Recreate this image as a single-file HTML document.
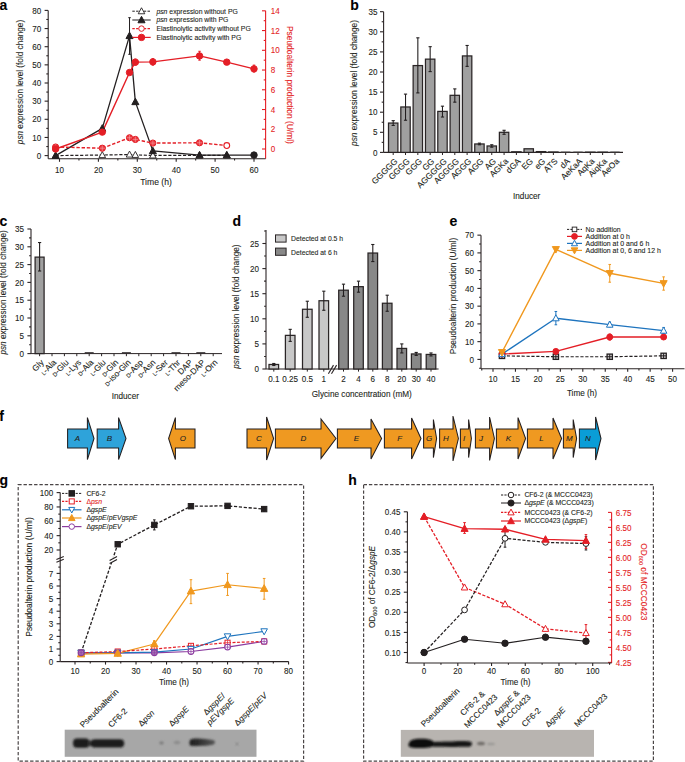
<!DOCTYPE html>
<html><head><meta charset="utf-8"><style>
html,body{margin:0;padding:0;background:#fff;}
svg{display:block;font-family:"Liberation Sans", sans-serif;}
</style></head><body>
<svg width="685" height="762" viewBox="0 0 685 762">
<defs><linearGradient id="bg1" x1="0" x2="1" y1="0" y2="0"><stop offset="0" stop-color="#1e1e1e"/><stop offset="0.45" stop-color="#333"/><stop offset="1" stop-color="#5a5a5a"/></linearGradient><filter id="bl" x="-20%" y="-50%" width="140%" height="200%"><feGaussianBlur stdDeviation="0.9"/></filter></defs>
<rect width="685" height="762" fill="#fff"/>
<text x="-0.6" y="10.2" font-size="14" text-anchor="start" fill="#000" font-weight="bold" stroke="#000" stroke-width="0.1">a</text>
<line x1="48.2" y1="10.4" x2="48.2" y2="158.8" stroke="#2b2425" stroke-width="1.1" stroke-linecap="butt"/>
<line x1="48.2" y1="155.6" x2="44.6" y2="155.6" stroke="#2b2425" stroke-width="1.1" stroke-linecap="butt"/>
<line x1="48.2" y1="137.45" x2="44.6" y2="137.45" stroke="#2b2425" stroke-width="1.1" stroke-linecap="butt"/>
<line x1="48.2" y1="119.3" x2="44.6" y2="119.3" stroke="#2b2425" stroke-width="1.1" stroke-linecap="butt"/>
<line x1="48.2" y1="101.15" x2="44.6" y2="101.15" stroke="#2b2425" stroke-width="1.1" stroke-linecap="butt"/>
<line x1="48.2" y1="83" x2="44.6" y2="83" stroke="#2b2425" stroke-width="1.1" stroke-linecap="butt"/>
<line x1="48.2" y1="64.85" x2="44.6" y2="64.85" stroke="#2b2425" stroke-width="1.1" stroke-linecap="butt"/>
<line x1="48.2" y1="46.7" x2="44.6" y2="46.7" stroke="#2b2425" stroke-width="1.1" stroke-linecap="butt"/>
<line x1="48.2" y1="28.55" x2="44.6" y2="28.55" stroke="#2b2425" stroke-width="1.1" stroke-linecap="butt"/>
<line x1="48.2" y1="10.4" x2="44.6" y2="10.4" stroke="#2b2425" stroke-width="1.1" stroke-linecap="butt"/>
<line x1="48.2" y1="146.53" x2="46.3" y2="146.53" stroke="#2b2425" stroke-width="1.1" stroke-linecap="butt"/>
<line x1="48.2" y1="128.38" x2="46.3" y2="128.38" stroke="#2b2425" stroke-width="1.1" stroke-linecap="butt"/>
<line x1="48.2" y1="110.22" x2="46.3" y2="110.22" stroke="#2b2425" stroke-width="1.1" stroke-linecap="butt"/>
<line x1="48.2" y1="92.07" x2="46.3" y2="92.07" stroke="#2b2425" stroke-width="1.1" stroke-linecap="butt"/>
<line x1="48.2" y1="73.92" x2="46.3" y2="73.92" stroke="#2b2425" stroke-width="1.1" stroke-linecap="butt"/>
<line x1="48.2" y1="55.77" x2="46.3" y2="55.77" stroke="#2b2425" stroke-width="1.1" stroke-linecap="butt"/>
<line x1="48.2" y1="37.62" x2="46.3" y2="37.62" stroke="#2b2425" stroke-width="1.1" stroke-linecap="butt"/>
<line x1="48.2" y1="19.47" x2="46.3" y2="19.47" stroke="#2b2425" stroke-width="1.1" stroke-linecap="butt"/>
<text x="0" y="0" font-size="9" text-anchor="end" fill="#231f20" transform="translate(41.2 158.75) scale(0.9 1)" stroke="#231f20" stroke-width="0.1">0</text>
<text x="0" y="0" font-size="9" text-anchor="end" fill="#231f20" transform="translate(41.2 140.6) scale(0.9 1)" stroke="#231f20" stroke-width="0.1">10</text>
<text x="0" y="0" font-size="9" text-anchor="end" fill="#231f20" transform="translate(41.2 122.45) scale(0.9 1)" stroke="#231f20" stroke-width="0.1">20</text>
<text x="0" y="0" font-size="9" text-anchor="end" fill="#231f20" transform="translate(41.2 104.3) scale(0.9 1)" stroke="#231f20" stroke-width="0.1">30</text>
<text x="0" y="0" font-size="9" text-anchor="end" fill="#231f20" transform="translate(41.2 86.15) scale(0.9 1)" stroke="#231f20" stroke-width="0.1">40</text>
<text x="0" y="0" font-size="9" text-anchor="end" fill="#231f20" transform="translate(41.2 68) scale(0.9 1)" stroke="#231f20" stroke-width="0.1">50</text>
<text x="0" y="0" font-size="9" text-anchor="end" fill="#231f20" transform="translate(41.2 49.85) scale(0.9 1)" stroke="#231f20" stroke-width="0.1">60</text>
<text x="0" y="0" font-size="9" text-anchor="end" fill="#231f20" transform="translate(41.2 31.7) scale(0.9 1)" stroke="#231f20" stroke-width="0.1">70</text>
<text x="0" y="0" font-size="9" text-anchor="end" fill="#231f20" transform="translate(41.2 13.55) scale(0.9 1)" stroke="#231f20" stroke-width="0.1">80</text>
<line x1="265.6" y1="10.82" x2="265.6" y2="158.8" stroke="#e41e26" stroke-width="1.1" stroke-linecap="butt"/>
<line x1="265.6" y1="149" x2="262" y2="149" stroke="#e41e26" stroke-width="1.1" stroke-linecap="butt"/>
<line x1="265.6" y1="129.26" x2="262" y2="129.26" stroke="#e41e26" stroke-width="1.1" stroke-linecap="butt"/>
<line x1="265.6" y1="109.52" x2="262" y2="109.52" stroke="#e41e26" stroke-width="1.1" stroke-linecap="butt"/>
<line x1="265.6" y1="89.78" x2="262" y2="89.78" stroke="#e41e26" stroke-width="1.1" stroke-linecap="butt"/>
<line x1="265.6" y1="70.04" x2="262" y2="70.04" stroke="#e41e26" stroke-width="1.1" stroke-linecap="butt"/>
<line x1="265.6" y1="50.3" x2="262" y2="50.3" stroke="#e41e26" stroke-width="1.1" stroke-linecap="butt"/>
<line x1="265.6" y1="30.56" x2="262" y2="30.56" stroke="#e41e26" stroke-width="1.1" stroke-linecap="butt"/>
<line x1="265.6" y1="10.82" x2="262" y2="10.82" stroke="#e41e26" stroke-width="1.1" stroke-linecap="butt"/>
<line x1="265.6" y1="139.13" x2="263.7" y2="139.13" stroke="#e41e26" stroke-width="1.1" stroke-linecap="butt"/>
<line x1="265.6" y1="119.39" x2="263.7" y2="119.39" stroke="#e41e26" stroke-width="1.1" stroke-linecap="butt"/>
<line x1="265.6" y1="99.65" x2="263.7" y2="99.65" stroke="#e41e26" stroke-width="1.1" stroke-linecap="butt"/>
<line x1="265.6" y1="79.91" x2="263.7" y2="79.91" stroke="#e41e26" stroke-width="1.1" stroke-linecap="butt"/>
<line x1="265.6" y1="60.17" x2="263.7" y2="60.17" stroke="#e41e26" stroke-width="1.1" stroke-linecap="butt"/>
<line x1="265.6" y1="40.43" x2="263.7" y2="40.43" stroke="#e41e26" stroke-width="1.1" stroke-linecap="butt"/>
<line x1="265.6" y1="20.69" x2="263.7" y2="20.69" stroke="#e41e26" stroke-width="1.1" stroke-linecap="butt"/>
<text x="0" y="0" font-size="9" text-anchor="start" fill="#e41e26" transform="translate(270.8 152.15) scale(0.9 1)" stroke="#e41e26" stroke-width="0.1">0</text>
<text x="0" y="0" font-size="9" text-anchor="start" fill="#e41e26" transform="translate(270.8 132.41) scale(0.9 1)" stroke="#e41e26" stroke-width="0.1">2</text>
<text x="0" y="0" font-size="9" text-anchor="start" fill="#e41e26" transform="translate(270.8 112.67) scale(0.9 1)" stroke="#e41e26" stroke-width="0.1">4</text>
<text x="0" y="0" font-size="9" text-anchor="start" fill="#e41e26" transform="translate(270.8 92.93) scale(0.9 1)" stroke="#e41e26" stroke-width="0.1">6</text>
<text x="0" y="0" font-size="9" text-anchor="start" fill="#e41e26" transform="translate(270.8 73.19) scale(0.9 1)" stroke="#e41e26" stroke-width="0.1">8</text>
<text x="0" y="0" font-size="9" text-anchor="start" fill="#e41e26" transform="translate(270.8 53.45) scale(0.9 1)" stroke="#e41e26" stroke-width="0.1">10</text>
<text x="0" y="0" font-size="9" text-anchor="start" fill="#e41e26" transform="translate(270.8 33.71) scale(0.9 1)" stroke="#e41e26" stroke-width="0.1">12</text>
<text x="0" y="0" font-size="9" text-anchor="start" fill="#e41e26" transform="translate(270.8 13.97) scale(0.9 1)" stroke="#e41e26" stroke-width="0.1">14</text>
<line x1="48.2" y1="158.8" x2="265.6" y2="158.8" stroke="#2b2425" stroke-width="1.1" stroke-linecap="butt"/>
<line x1="59.5" y1="158.8" x2="59.5" y2="161.8" stroke="#2b2425" stroke-width="1.1" stroke-linecap="butt"/>
<line x1="98.4" y1="158.8" x2="98.4" y2="161.8" stroke="#2b2425" stroke-width="1.1" stroke-linecap="butt"/>
<line x1="137.3" y1="158.8" x2="137.3" y2="161.8" stroke="#2b2425" stroke-width="1.1" stroke-linecap="butt"/>
<line x1="176.2" y1="158.8" x2="176.2" y2="161.8" stroke="#2b2425" stroke-width="1.1" stroke-linecap="butt"/>
<line x1="215.1" y1="158.8" x2="215.1" y2="161.8" stroke="#2b2425" stroke-width="1.1" stroke-linecap="butt"/>
<line x1="254" y1="158.8" x2="254" y2="161.8" stroke="#2b2425" stroke-width="1.1" stroke-linecap="butt"/>
<line x1="78.95" y1="158.8" x2="78.95" y2="160.6" stroke="#2b2425" stroke-width="1.1" stroke-linecap="butt"/>
<line x1="117.85" y1="158.8" x2="117.85" y2="160.6" stroke="#2b2425" stroke-width="1.1" stroke-linecap="butt"/>
<line x1="156.75" y1="158.8" x2="156.75" y2="160.6" stroke="#2b2425" stroke-width="1.1" stroke-linecap="butt"/>
<line x1="195.65" y1="158.8" x2="195.65" y2="160.6" stroke="#2b2425" stroke-width="1.1" stroke-linecap="butt"/>
<line x1="234.55" y1="158.8" x2="234.55" y2="160.6" stroke="#2b2425" stroke-width="1.1" stroke-linecap="butt"/>
<text x="0" y="0" font-size="9" text-anchor="middle" fill="#231f20" transform="translate(59.5 172.95) scale(0.9 1)" stroke="#231f20" stroke-width="0.1">10</text>
<text x="0" y="0" font-size="9" text-anchor="middle" fill="#231f20" transform="translate(98.4 172.95) scale(0.9 1)" stroke="#231f20" stroke-width="0.1">20</text>
<text x="0" y="0" font-size="9" text-anchor="middle" fill="#231f20" transform="translate(137.3 172.95) scale(0.9 1)" stroke="#231f20" stroke-width="0.1">30</text>
<text x="0" y="0" font-size="9" text-anchor="middle" fill="#231f20" transform="translate(176.2 172.95) scale(0.9 1)" stroke="#231f20" stroke-width="0.1">40</text>
<text x="0" y="0" font-size="9" text-anchor="middle" fill="#231f20" transform="translate(215.1 172.95) scale(0.9 1)" stroke="#231f20" stroke-width="0.1">50</text>
<text x="0" y="0" font-size="9" text-anchor="middle" fill="#231f20" transform="translate(254 172.95) scale(0.9 1)" stroke="#231f20" stroke-width="0.1">60</text>
<text x="156" y="185.2" font-size="8.6" text-anchor="middle" fill="#231f20" stroke="#231f20" stroke-width="0.1">Time (h)</text>
<text transform="translate(22.5 82) rotate(-90)" font-size="8.2" text-anchor="middle" fill="#231f20" stroke="#231f20" stroke-width="0.1"><tspan font-style="italic">psn</tspan> expression level (fold change)</text>
<text transform="translate(287.3 84.9) rotate(90)" font-size="8.4" text-anchor="middle" fill="#e41e26" stroke="#e41e26" stroke-width="0.1">Pseudoalterin production (U/ml)</text>
<polyline points="55.61,155.6 102.29,155.06 129.52,154.51 135.36,154.87 152.86,155.42 199.54,155.42 226.77,155.24" fill="none" stroke="#231f20" stroke-width="1.2" stroke-dasharray="3.2,1.7" stroke-linejoin="round"/>
<polyline points="55.61,155.6 102.29,128.38 129.52,35.81 135.36,101.88 152.86,150.88 199.54,155.06 226.77,155.06 254,155.06" fill="none" stroke="#231f20" stroke-width="1.3" stroke-linejoin="round"/>
<polyline points="55.61,147.03 102.29,148.21 129.52,137.75 135.36,139.43 152.86,143.08 199.54,142.78 226.77,145.55" fill="none" stroke="#e41e26" stroke-width="1.4" stroke-dasharray="3.4,1.8" stroke-linejoin="round"/>
<polyline points="55.61,149 102.29,132.12 129.52,72.51 135.36,62.14 152.86,61.85 199.54,55.93 226.77,62.14 254,68.86" fill="none" stroke="#e41e26" stroke-width="1.4" stroke-linejoin="round"/>
<line x1="129.52" y1="17.66" x2="129.52" y2="54.32" stroke="#231f20" stroke-width="1.0" stroke-linecap="butt"/>
<line x1="128.27" y1="17.66" x2="130.77" y2="17.66" stroke="#231f20" stroke-width="1.0" stroke-linecap="butt"/>
<line x1="128.27" y1="54.32" x2="130.77" y2="54.32" stroke="#231f20" stroke-width="1.0" stroke-linecap="butt"/>
<line x1="199.54" y1="51.29" x2="199.54" y2="60.17" stroke="#e41e26" stroke-width="1.0" stroke-linecap="butt"/>
<line x1="198.29" y1="51.29" x2="200.79" y2="51.29" stroke="#e41e26" stroke-width="1.0" stroke-linecap="butt"/>
<line x1="198.29" y1="60.17" x2="200.79" y2="60.17" stroke="#e41e26" stroke-width="1.0" stroke-linecap="butt"/>
<line x1="254" y1="65.11" x2="254" y2="72.01" stroke="#e41e26" stroke-width="1.0" stroke-linecap="butt"/>
<line x1="252.75" y1="65.11" x2="255.25" y2="65.11" stroke="#e41e26" stroke-width="1.0" stroke-linecap="butt"/>
<line x1="252.75" y1="72.01" x2="255.25" y2="72.01" stroke="#e41e26" stroke-width="1.0" stroke-linecap="butt"/>
<line x1="135.36" y1="59.18" x2="135.36" y2="65.11" stroke="#e41e26" stroke-width="1.0" stroke-linecap="butt"/>
<line x1="134.11" y1="59.18" x2="136.61" y2="59.18" stroke="#e41e26" stroke-width="1.0" stroke-linecap="butt"/>
<line x1="134.11" y1="65.11" x2="136.61" y2="65.11" stroke="#e41e26" stroke-width="1.0" stroke-linecap="butt"/>
<line x1="152.86" y1="58.69" x2="152.86" y2="65.11" stroke="#e41e26" stroke-width="1.0" stroke-linecap="butt"/>
<line x1="151.61" y1="58.69" x2="154.11" y2="58.69" stroke="#e41e26" stroke-width="1.0" stroke-linecap="butt"/>
<line x1="151.61" y1="65.11" x2="154.11" y2="65.11" stroke="#e41e26" stroke-width="1.0" stroke-linecap="butt"/>
<polygon points="55.61,152.16 58.9,158.18 52.32,158.18" fill="white" stroke="#231f20" stroke-width="0.9" stroke-linejoin="miter"/>
<polygon points="102.29,151.62 105.58,157.63 99,157.63" fill="white" stroke="#231f20" stroke-width="0.9" stroke-linejoin="miter"/>
<polygon points="129.52,151.07 132.81,157.09 126.23,157.09" fill="white" stroke="#231f20" stroke-width="0.9" stroke-linejoin="miter"/>
<polygon points="135.36,151.44 138.64,157.45 132.07,157.45" fill="white" stroke="#231f20" stroke-width="0.9" stroke-linejoin="miter"/>
<polygon points="152.86,151.98 156.15,158 149.57,158" fill="white" stroke="#231f20" stroke-width="0.9" stroke-linejoin="miter"/>
<polygon points="199.54,151.98 202.83,158 196.25,158" fill="white" stroke="#231f20" stroke-width="0.9" stroke-linejoin="miter"/>
<polygon points="226.77,151.8 230.06,157.82 223.48,157.82" fill="white" stroke="#231f20" stroke-width="0.9" stroke-linejoin="miter"/>
<polygon points="55.61,151.9 59.15,158.38 52.07,158.38" fill="#231f20" stroke="#231f20" stroke-width="1.0" stroke-linejoin="miter"/>
<polygon points="102.29,124.67 105.83,131.15 98.75,131.15" fill="#231f20" stroke="#231f20" stroke-width="1.0" stroke-linejoin="miter"/>
<polygon points="129.52,32.11 133.06,38.59 125.98,38.59" fill="#231f20" stroke="#231f20" stroke-width="1.0" stroke-linejoin="miter"/>
<polygon points="135.36,98.17 138.9,104.65 131.81,104.65" fill="#231f20" stroke="#231f20" stroke-width="1.0" stroke-linejoin="miter"/>
<polygon points="152.86,147.18 156.4,153.66 149.32,153.66" fill="#231f20" stroke="#231f20" stroke-width="1.0" stroke-linejoin="miter"/>
<polygon points="199.54,151.35 203.08,157.83 196,157.83" fill="#231f20" stroke="#231f20" stroke-width="1.0" stroke-linejoin="miter"/>
<polygon points="226.77,151.35 230.31,157.83 223.23,157.83" fill="#231f20" stroke="#231f20" stroke-width="1.0" stroke-linejoin="miter"/>
<circle cx="254" cy="155.06" r="3.22" fill="#231f20" stroke="#231f20" stroke-width="1.0"/>
<circle cx="55.61" cy="147.03" r="3.1" fill="#ea3a42" stroke="#e41e26" stroke-width="1.0"/>
<line x1="52.91" y1="147.03" x2="58.31" y2="147.03" stroke="#f6b0b3" stroke-width="0.5" stroke-linecap="butt"/>
<line x1="55.61" y1="144.33" x2="55.61" y2="149.73" stroke="#f6b0b3" stroke-width="0.5" stroke-linecap="butt"/>
<circle cx="102.29" cy="148.21" r="3.1" fill="#ea3a42" stroke="#e41e26" stroke-width="1.0"/>
<line x1="99.59" y1="148.21" x2="104.99" y2="148.21" stroke="#f6b0b3" stroke-width="0.5" stroke-linecap="butt"/>
<line x1="102.29" y1="145.51" x2="102.29" y2="150.91" stroke="#f6b0b3" stroke-width="0.5" stroke-linecap="butt"/>
<circle cx="129.52" cy="137.75" r="3.1" fill="#ea3a42" stroke="#e41e26" stroke-width="1.0"/>
<line x1="126.82" y1="137.75" x2="132.22" y2="137.75" stroke="#f6b0b3" stroke-width="0.5" stroke-linecap="butt"/>
<line x1="129.52" y1="135.05" x2="129.52" y2="140.45" stroke="#f6b0b3" stroke-width="0.5" stroke-linecap="butt"/>
<circle cx="135.36" cy="139.43" r="3.1" fill="#ea3a42" stroke="#e41e26" stroke-width="1.0"/>
<line x1="132.66" y1="139.43" x2="138.06" y2="139.43" stroke="#f6b0b3" stroke-width="0.5" stroke-linecap="butt"/>
<line x1="135.36" y1="136.73" x2="135.36" y2="142.13" stroke="#f6b0b3" stroke-width="0.5" stroke-linecap="butt"/>
<circle cx="152.86" cy="143.08" r="3.1" fill="#ea3a42" stroke="#e41e26" stroke-width="1.0"/>
<line x1="150.16" y1="143.08" x2="155.56" y2="143.08" stroke="#f6b0b3" stroke-width="0.5" stroke-linecap="butt"/>
<line x1="152.86" y1="140.38" x2="152.86" y2="145.78" stroke="#f6b0b3" stroke-width="0.5" stroke-linecap="butt"/>
<circle cx="199.54" cy="142.78" r="3.1" fill="#ea3a42" stroke="#e41e26" stroke-width="1.0"/>
<line x1="196.84" y1="142.78" x2="202.24" y2="142.78" stroke="#f6b0b3" stroke-width="0.5" stroke-linecap="butt"/>
<line x1="199.54" y1="140.08" x2="199.54" y2="145.48" stroke="#f6b0b3" stroke-width="0.5" stroke-linecap="butt"/>
<circle cx="226.77" cy="145.55" r="2.88" fill="white" stroke="#e41e26" stroke-width="1.1"/>
<circle cx="55.61" cy="149" r="3.22" fill="#e41e26" stroke="#e41e26" stroke-width="1.0"/>
<circle cx="102.29" cy="132.12" r="3.22" fill="#e41e26" stroke="#e41e26" stroke-width="1.0"/>
<circle cx="129.52" cy="72.51" r="3.22" fill="#e41e26" stroke="#e41e26" stroke-width="1.0"/>
<circle cx="135.36" cy="62.14" r="3.22" fill="#e41e26" stroke="#e41e26" stroke-width="1.0"/>
<circle cx="152.86" cy="61.85" r="3.22" fill="#e41e26" stroke="#e41e26" stroke-width="1.0"/>
<circle cx="199.54" cy="55.93" r="3.22" fill="#e41e26" stroke="#e41e26" stroke-width="1.0"/>
<circle cx="226.77" cy="62.14" r="3.22" fill="#e41e26" stroke="#e41e26" stroke-width="1.0"/>
<circle cx="254" cy="68.86" r="3.22" fill="#e41e26" stroke="#e41e26" stroke-width="1.0"/>
<line x1="132.3" y1="11.2" x2="150.7" y2="11.2" stroke="#231f20" stroke-width="1" stroke-dasharray="2.5,1.3" stroke-linecap="butt"/>
<polygon points="141.5,7.76 144.79,13.78 138.21,13.78" fill="white" stroke="#231f20" stroke-width="0.9" stroke-linejoin="miter"/>
<line x1="132.3" y1="20" x2="150.7" y2="20" stroke="#231f20" stroke-width="1" stroke-linecap="butt"/>
<polygon points="141.5,16.3 145.04,22.78 137.96,22.78" fill="#231f20" stroke="#231f20" stroke-width="1.0" stroke-linejoin="miter"/>
<line x1="132.3" y1="28.6" x2="150.7" y2="28.6" stroke="#e41e26" stroke-width="1.2" stroke-dasharray="2.5,1.3" stroke-linecap="butt"/>
<circle cx="141.5" cy="28.6" r="2.76" fill="white" stroke="#e41e26" stroke-width="1.0"/>
<line x1="132.3" y1="37.4" x2="150.7" y2="37.4" stroke="#e41e26" stroke-width="1.2" stroke-linecap="butt"/>
<circle cx="141.5" cy="37.4" r="3.22" fill="#e41e26" stroke="#e41e26" stroke-width="1.0"/>
<text x="156.4" y="13.6" font-size="6.85" fill="#231f20" stroke="#231f20" stroke-width="0.1"><tspan font-style="italic">psn</tspan> expression without PG</text>
<text x="156.4" y="22.4" font-size="6.85" fill="#231f20" stroke="#231f20" stroke-width="0.1"><tspan font-style="italic">psn</tspan> expression with PG</text>
<text x="156.4" y="31" font-size="6.85" text-anchor="start" fill="#231f20" stroke="#231f20" stroke-width="0.1">Elastinolytic activity without PG</text>
<text x="156.4" y="39.8" font-size="6.85" text-anchor="start" fill="#231f20" stroke="#231f20" stroke-width="0.1">Elastinolytic activity with PG</text>
<text x="350.3" y="10.2" font-size="14" text-anchor="start" fill="#000" font-weight="bold" stroke="#000" stroke-width="0.1">b</text>
<line x1="383.6" y1="11.7" x2="383.6" y2="152.4" stroke="#2b2425" stroke-width="1.1" stroke-linecap="butt"/>
<line x1="383.6" y1="152.4" x2="380" y2="152.4" stroke="#2b2425" stroke-width="1.1" stroke-linecap="butt"/>
<line x1="383.6" y1="132.3" x2="380" y2="132.3" stroke="#2b2425" stroke-width="1.1" stroke-linecap="butt"/>
<line x1="383.6" y1="112.2" x2="380" y2="112.2" stroke="#2b2425" stroke-width="1.1" stroke-linecap="butt"/>
<line x1="383.6" y1="92.1" x2="380" y2="92.1" stroke="#2b2425" stroke-width="1.1" stroke-linecap="butt"/>
<line x1="383.6" y1="72" x2="380" y2="72" stroke="#2b2425" stroke-width="1.1" stroke-linecap="butt"/>
<line x1="383.6" y1="51.9" x2="380" y2="51.9" stroke="#2b2425" stroke-width="1.1" stroke-linecap="butt"/>
<line x1="383.6" y1="31.8" x2="380" y2="31.8" stroke="#2b2425" stroke-width="1.1" stroke-linecap="butt"/>
<line x1="383.6" y1="11.7" x2="380" y2="11.7" stroke="#2b2425" stroke-width="1.1" stroke-linecap="butt"/>
<line x1="383.6" y1="142.35" x2="381.7" y2="142.35" stroke="#2b2425" stroke-width="1.1" stroke-linecap="butt"/>
<line x1="383.6" y1="122.25" x2="381.7" y2="122.25" stroke="#2b2425" stroke-width="1.1" stroke-linecap="butt"/>
<line x1="383.6" y1="102.15" x2="381.7" y2="102.15" stroke="#2b2425" stroke-width="1.1" stroke-linecap="butt"/>
<line x1="383.6" y1="82.05" x2="381.7" y2="82.05" stroke="#2b2425" stroke-width="1.1" stroke-linecap="butt"/>
<line x1="383.6" y1="61.95" x2="381.7" y2="61.95" stroke="#2b2425" stroke-width="1.1" stroke-linecap="butt"/>
<line x1="383.6" y1="41.85" x2="381.7" y2="41.85" stroke="#2b2425" stroke-width="1.1" stroke-linecap="butt"/>
<line x1="383.6" y1="21.75" x2="381.7" y2="21.75" stroke="#2b2425" stroke-width="1.1" stroke-linecap="butt"/>
<text x="0" y="0" font-size="9" text-anchor="end" fill="#231f20" transform="translate(377.6 155.55) scale(0.9 1)" stroke="#231f20" stroke-width="0.1">0</text>
<text x="0" y="0" font-size="9" text-anchor="end" fill="#231f20" transform="translate(377.6 135.45) scale(0.9 1)" stroke="#231f20" stroke-width="0.1">5</text>
<text x="0" y="0" font-size="9" text-anchor="end" fill="#231f20" transform="translate(377.6 115.35) scale(0.9 1)" stroke="#231f20" stroke-width="0.1">10</text>
<text x="0" y="0" font-size="9" text-anchor="end" fill="#231f20" transform="translate(377.6 95.25) scale(0.9 1)" stroke="#231f20" stroke-width="0.1">15</text>
<text x="0" y="0" font-size="9" text-anchor="end" fill="#231f20" transform="translate(377.6 75.15) scale(0.9 1)" stroke="#231f20" stroke-width="0.1">20</text>
<text x="0" y="0" font-size="9" text-anchor="end" fill="#231f20" transform="translate(377.6 55.05) scale(0.9 1)" stroke="#231f20" stroke-width="0.1">25</text>
<text x="0" y="0" font-size="9" text-anchor="end" fill="#231f20" transform="translate(377.6 34.95) scale(0.9 1)" stroke="#231f20" stroke-width="0.1">30</text>
<text x="0" y="0" font-size="9" text-anchor="end" fill="#231f20" transform="translate(377.6 14.85) scale(0.9 1)" stroke="#231f20" stroke-width="0.1">35</text>
<line x1="383.6" y1="152.4" x2="623" y2="152.4" stroke="#2b2425" stroke-width="1.1" stroke-linecap="butt"/>
<line x1="393.2" y1="152.4" x2="393.2" y2="155" stroke="#2b2425" stroke-width="1" stroke-linecap="butt"/>
<rect x="388.5" y="123.05" width="9.4" height="29.35" fill="#a0a0a0" stroke="#2a2526" stroke-width="1.25"/>
<line x1="393.2" y1="120.64" x2="393.2" y2="125.47" stroke="#231f20" stroke-width="1.1" stroke-linecap="butt"/>
<line x1="391.6" y1="120.64" x2="394.8" y2="120.64" stroke="#231f20" stroke-width="1.1" stroke-linecap="butt"/>
<line x1="391.6" y1="125.47" x2="394.8" y2="125.47" stroke="#231f20" stroke-width="1.1" stroke-linecap="butt"/>
<text x="398" y="161.8" font-size="8.4" text-anchor="end" fill="#231f20" transform="rotate(-45 398 161.8)" stroke="#231f20" stroke-width="0.1">GGGGG</text>
<line x1="405.52" y1="152.4" x2="405.52" y2="155" stroke="#2b2425" stroke-width="1" stroke-linecap="butt"/>
<rect x="400.82" y="106.97" width="9.4" height="45.43" fill="#a0a0a0" stroke="#2a2526" stroke-width="1.25"/>
<line x1="405.52" y1="94.11" x2="405.52" y2="120.24" stroke="#231f20" stroke-width="1.1" stroke-linecap="butt"/>
<line x1="403.92" y1="94.11" x2="407.12" y2="94.11" stroke="#231f20" stroke-width="1.1" stroke-linecap="butt"/>
<line x1="403.92" y1="120.24" x2="407.12" y2="120.24" stroke="#231f20" stroke-width="1.1" stroke-linecap="butt"/>
<text x="410.32" y="161.8" font-size="8.4" text-anchor="end" fill="#231f20" transform="rotate(-45 410.32 161.8)" stroke="#231f20" stroke-width="0.1">GGGG</text>
<line x1="417.84" y1="152.4" x2="417.84" y2="155" stroke="#2b2425" stroke-width="1" stroke-linecap="butt"/>
<rect x="413.14" y="65.57" width="9.4" height="86.83" fill="#a0a0a0" stroke="#2a2526" stroke-width="1.25"/>
<line x1="417.84" y1="37.83" x2="417.84" y2="92.9" stroke="#231f20" stroke-width="1.1" stroke-linecap="butt"/>
<line x1="416.24" y1="37.83" x2="419.44" y2="37.83" stroke="#231f20" stroke-width="1.1" stroke-linecap="butt"/>
<line x1="416.24" y1="92.9" x2="419.44" y2="92.9" stroke="#231f20" stroke-width="1.1" stroke-linecap="butt"/>
<text x="422.64" y="161.8" font-size="8.4" text-anchor="end" fill="#231f20" transform="rotate(-45 422.64 161.8)" stroke="#231f20" stroke-width="0.1">GGG</text>
<line x1="430.16" y1="152.4" x2="430.16" y2="155" stroke="#2b2425" stroke-width="1" stroke-linecap="butt"/>
<rect x="425.46" y="59.14" width="9.4" height="93.26" fill="#a0a0a0" stroke="#2a2526" stroke-width="1.25"/>
<line x1="430.16" y1="46.67" x2="430.16" y2="71.6" stroke="#231f20" stroke-width="1.1" stroke-linecap="butt"/>
<line x1="428.56" y1="46.67" x2="431.76" y2="46.67" stroke="#231f20" stroke-width="1.1" stroke-linecap="butt"/>
<line x1="428.56" y1="71.6" x2="431.76" y2="71.6" stroke="#231f20" stroke-width="1.1" stroke-linecap="butt"/>
<text x="434.96" y="161.8" font-size="8.4" text-anchor="end" fill="#231f20" transform="rotate(-45 434.96 161.8)" stroke="#231f20" stroke-width="0.1">GG</text>
<line x1="442.48" y1="152.4" x2="442.48" y2="155" stroke="#2b2425" stroke-width="1" stroke-linecap="butt"/>
<rect x="437.78" y="111.4" width="9.4" height="41" fill="#a0a0a0" stroke="#2a2526" stroke-width="1.25"/>
<line x1="442.48" y1="106.17" x2="442.48" y2="117.02" stroke="#231f20" stroke-width="1.1" stroke-linecap="butt"/>
<line x1="440.88" y1="106.17" x2="444.08" y2="106.17" stroke="#231f20" stroke-width="1.1" stroke-linecap="butt"/>
<line x1="440.88" y1="117.02" x2="444.08" y2="117.02" stroke="#231f20" stroke-width="1.1" stroke-linecap="butt"/>
<text x="447.28" y="161.8" font-size="8.4" text-anchor="end" fill="#231f20" transform="rotate(-45 447.28 161.8)" stroke="#231f20" stroke-width="0.1">AGGGGG</text>
<line x1="454.8" y1="152.4" x2="454.8" y2="155" stroke="#2b2425" stroke-width="1" stroke-linecap="butt"/>
<rect x="450.1" y="95.32" width="9.4" height="57.08" fill="#a0a0a0" stroke="#2a2526" stroke-width="1.25"/>
<line x1="454.8" y1="88.88" x2="454.8" y2="102.15" stroke="#231f20" stroke-width="1.1" stroke-linecap="butt"/>
<line x1="453.2" y1="88.88" x2="456.4" y2="88.88" stroke="#231f20" stroke-width="1.1" stroke-linecap="butt"/>
<line x1="453.2" y1="102.15" x2="456.4" y2="102.15" stroke="#231f20" stroke-width="1.1" stroke-linecap="butt"/>
<text x="459.6" y="161.8" font-size="8.4" text-anchor="end" fill="#231f20" transform="rotate(-45 459.6 161.8)" stroke="#231f20" stroke-width="0.1">AGGGG</text>
<line x1="467.12" y1="152.4" x2="467.12" y2="155" stroke="#2b2425" stroke-width="1" stroke-linecap="butt"/>
<rect x="462.42" y="55.92" width="9.4" height="96.48" fill="#a0a0a0" stroke="#2a2526" stroke-width="1.25"/>
<line x1="467.12" y1="45.47" x2="467.12" y2="66.37" stroke="#231f20" stroke-width="1.1" stroke-linecap="butt"/>
<line x1="465.52" y1="45.47" x2="468.72" y2="45.47" stroke="#231f20" stroke-width="1.1" stroke-linecap="butt"/>
<line x1="465.52" y1="66.37" x2="468.72" y2="66.37" stroke="#231f20" stroke-width="1.1" stroke-linecap="butt"/>
<text x="471.92" y="161.8" font-size="8.4" text-anchor="end" fill="#231f20" transform="rotate(-45 471.92 161.8)" stroke="#231f20" stroke-width="0.1">AGGG</text>
<line x1="479.44" y1="152.4" x2="479.44" y2="155" stroke="#2b2425" stroke-width="1" stroke-linecap="butt"/>
<rect x="474.74" y="143.96" width="9.4" height="8.44" fill="#a0a0a0" stroke="#2a2526" stroke-width="1.25"/>
<line x1="479.44" y1="143.15" x2="479.44" y2="144.76" stroke="#231f20" stroke-width="1.1" stroke-linecap="butt"/>
<line x1="477.84" y1="143.15" x2="481.04" y2="143.15" stroke="#231f20" stroke-width="1.1" stroke-linecap="butt"/>
<line x1="477.84" y1="144.76" x2="481.04" y2="144.76" stroke="#231f20" stroke-width="1.1" stroke-linecap="butt"/>
<text x="484.24" y="161.8" font-size="8.4" text-anchor="end" fill="#231f20" transform="rotate(-45 484.24 161.8)" stroke="#231f20" stroke-width="0.1">AGG</text>
<line x1="491.76" y1="152.4" x2="491.76" y2="155" stroke="#2b2425" stroke-width="1" stroke-linecap="butt"/>
<rect x="487.06" y="145.97" width="9.4" height="6.43" fill="#a0a0a0" stroke="#2a2526" stroke-width="1.25"/>
<line x1="491.76" y1="144.76" x2="491.76" y2="147.17" stroke="#231f20" stroke-width="1.1" stroke-linecap="butt"/>
<line x1="490.16" y1="144.76" x2="493.36" y2="144.76" stroke="#231f20" stroke-width="1.1" stroke-linecap="butt"/>
<line x1="490.16" y1="147.17" x2="493.36" y2="147.17" stroke="#231f20" stroke-width="1.1" stroke-linecap="butt"/>
<text x="496.56" y="161.8" font-size="8.4" text-anchor="end" fill="#231f20" transform="rotate(-45 496.56 161.8)" stroke="#231f20" stroke-width="0.1">AG</text>
<line x1="504.08" y1="152.4" x2="504.08" y2="155" stroke="#2b2425" stroke-width="1" stroke-linecap="butt"/>
<rect x="499.38" y="132.3" width="9.4" height="20.1" fill="#a0a0a0" stroke="#2a2526" stroke-width="1.25"/>
<line x1="504.08" y1="130.29" x2="504.08" y2="134.31" stroke="#231f20" stroke-width="1.1" stroke-linecap="butt"/>
<line x1="502.48" y1="130.29" x2="505.68" y2="130.29" stroke="#231f20" stroke-width="1.1" stroke-linecap="butt"/>
<line x1="502.48" y1="134.31" x2="505.68" y2="134.31" stroke="#231f20" stroke-width="1.1" stroke-linecap="butt"/>
<text x="508.88" y="161.8" font-size="8.4" text-anchor="end" fill="#231f20" transform="rotate(-45 508.88 161.8)" stroke="#231f20" stroke-width="0.1">AGKa</text>
<line x1="516.4" y1="152.4" x2="516.4" y2="155" stroke="#2b2425" stroke-width="1" stroke-linecap="butt"/>
<rect x="511.7" y="151.8" width="9.4" height="0.6" fill="#a0a0a0" stroke="#2a2526" stroke-width="1.25"/>
<text x="521.2" y="161.8" font-size="8.4" text-anchor="end" fill="#231f20" transform="rotate(-45 521.2 161.8)" stroke="#231f20" stroke-width="0.1">dGA</text>
<line x1="528.72" y1="152.4" x2="528.72" y2="155" stroke="#2b2425" stroke-width="1" stroke-linecap="butt"/>
<rect x="524.02" y="148.78" width="9.4" height="3.62" fill="#a0a0a0" stroke="#2a2526" stroke-width="1.25"/>
<text x="533.52" y="161.8" font-size="8.4" text-anchor="end" fill="#231f20" transform="rotate(-45 533.52 161.8)" stroke="#231f20" stroke-width="0.1">EG</text>
<line x1="541.04" y1="152.4" x2="541.04" y2="155" stroke="#2b2425" stroke-width="1" stroke-linecap="butt"/>
<rect x="536.34" y="151.6" width="9.4" height="0.8" fill="#a0a0a0" stroke="#2a2526" stroke-width="1.25"/>
<text x="545.84" y="161.8" font-size="8.4" text-anchor="end" fill="#231f20" transform="rotate(-45 545.84 161.8)" stroke="#231f20" stroke-width="0.1">eG</text>
<line x1="553.36" y1="152.4" x2="553.36" y2="155" stroke="#2b2425" stroke-width="1" stroke-linecap="butt"/>
<rect x="548.66" y="152" width="9.4" height="0.4" fill="#a0a0a0" stroke="#2a2526" stroke-width="1.25"/>
<text x="558.16" y="161.8" font-size="8.4" text-anchor="end" fill="#231f20" transform="rotate(-45 558.16 161.8)" stroke="#231f20" stroke-width="0.1">ATS</text>
<line x1="565.68" y1="152.4" x2="565.68" y2="155" stroke="#2b2425" stroke-width="1" stroke-linecap="butt"/>
<line x1="560.98" y1="151.9" x2="570.38" y2="151.9" stroke="#555" stroke-width="0.8" stroke-linecap="butt"/>
<text x="570.48" y="161.8" font-size="8.4" text-anchor="end" fill="#231f20" transform="rotate(-45 570.48 161.8)" stroke="#231f20" stroke-width="0.1">dA</text>
<line x1="578" y1="152.4" x2="578" y2="155" stroke="#2b2425" stroke-width="1" stroke-linecap="butt"/>
<line x1="573.3" y1="151.9" x2="582.7" y2="151.9" stroke="#555" stroke-width="0.8" stroke-linecap="butt"/>
<text x="582.8" y="161.8" font-size="8.4" text-anchor="end" fill="#231f20" transform="rotate(-45 582.8 161.8)" stroke="#231f20" stroke-width="0.1">AeKaA</text>
<line x1="590.32" y1="152.4" x2="590.32" y2="155" stroke="#2b2425" stroke-width="1" stroke-linecap="butt"/>
<rect x="585.62" y="152.16" width="9.4" height="0.24" fill="#a0a0a0" stroke="#2a2526" stroke-width="1.25"/>
<text x="595.12" y="161.8" font-size="8.4" text-anchor="end" fill="#231f20" transform="rotate(-45 595.12 161.8)" stroke="#231f20" stroke-width="0.1">AqKa</text>
<line x1="602.64" y1="152.4" x2="602.64" y2="155" stroke="#2b2425" stroke-width="1" stroke-linecap="butt"/>
<rect x="597.94" y="152.16" width="9.4" height="0.24" fill="#a0a0a0" stroke="#2a2526" stroke-width="1.25"/>
<text x="607.44" y="161.8" font-size="8.4" text-anchor="end" fill="#231f20" transform="rotate(-45 607.44 161.8)" stroke="#231f20" stroke-width="0.1">AiqKa</text>
<line x1="614.96" y1="152.4" x2="614.96" y2="155" stroke="#2b2425" stroke-width="1" stroke-linecap="butt"/>
<line x1="610.26" y1="151.9" x2="619.66" y2="151.9" stroke="#555" stroke-width="0.8" stroke-linecap="butt"/>
<text x="619.76" y="161.8" font-size="8.4" text-anchor="end" fill="#231f20" transform="rotate(-45 619.76 161.8)" stroke="#231f20" stroke-width="0.1">AeOa</text>
<text transform="translate(356.6 83) rotate(-90)" font-size="8.3" text-anchor="middle" fill="#231f20" stroke="#231f20" stroke-width="0.1"><tspan font-style="italic">psn</tspan> expression level (fold change)</text>
<text x="526.7" y="198.5" font-size="8.2" text-anchor="middle" fill="#231f20" stroke="#231f20" stroke-width="0.1">Inducer</text>
<text x="-0.6" y="226" font-size="14" text-anchor="start" fill="#000" font-weight="bold" stroke="#000" stroke-width="0.1">c</text>
<line x1="31" y1="229" x2="31" y2="353.6" stroke="#2b2425" stroke-width="1.1" stroke-linecap="butt"/>
<line x1="31" y1="353.6" x2="27.4" y2="353.6" stroke="#2b2425" stroke-width="1.1" stroke-linecap="butt"/>
<line x1="31" y1="335.8" x2="27.4" y2="335.8" stroke="#2b2425" stroke-width="1.1" stroke-linecap="butt"/>
<line x1="31" y1="318" x2="27.4" y2="318" stroke="#2b2425" stroke-width="1.1" stroke-linecap="butt"/>
<line x1="31" y1="300.2" x2="27.4" y2="300.2" stroke="#2b2425" stroke-width="1.1" stroke-linecap="butt"/>
<line x1="31" y1="282.4" x2="27.4" y2="282.4" stroke="#2b2425" stroke-width="1.1" stroke-linecap="butt"/>
<line x1="31" y1="264.6" x2="27.4" y2="264.6" stroke="#2b2425" stroke-width="1.1" stroke-linecap="butt"/>
<line x1="31" y1="246.8" x2="27.4" y2="246.8" stroke="#2b2425" stroke-width="1.1" stroke-linecap="butt"/>
<line x1="31" y1="229" x2="27.4" y2="229" stroke="#2b2425" stroke-width="1.1" stroke-linecap="butt"/>
<line x1="31" y1="344.7" x2="29.1" y2="344.7" stroke="#2b2425" stroke-width="1.1" stroke-linecap="butt"/>
<line x1="31" y1="326.9" x2="29.1" y2="326.9" stroke="#2b2425" stroke-width="1.1" stroke-linecap="butt"/>
<line x1="31" y1="309.1" x2="29.1" y2="309.1" stroke="#2b2425" stroke-width="1.1" stroke-linecap="butt"/>
<line x1="31" y1="291.3" x2="29.1" y2="291.3" stroke="#2b2425" stroke-width="1.1" stroke-linecap="butt"/>
<line x1="31" y1="273.5" x2="29.1" y2="273.5" stroke="#2b2425" stroke-width="1.1" stroke-linecap="butt"/>
<line x1="31" y1="255.7" x2="29.1" y2="255.7" stroke="#2b2425" stroke-width="1.1" stroke-linecap="butt"/>
<line x1="31" y1="237.9" x2="29.1" y2="237.9" stroke="#2b2425" stroke-width="1.1" stroke-linecap="butt"/>
<text x="0" y="0" font-size="9" text-anchor="end" fill="#231f20" transform="translate(24 356.75) scale(0.9 1)" stroke="#231f20" stroke-width="0.1">0</text>
<text x="0" y="0" font-size="9" text-anchor="end" fill="#231f20" transform="translate(24 338.95) scale(0.9 1)" stroke="#231f20" stroke-width="0.1">5</text>
<text x="0" y="0" font-size="9" text-anchor="end" fill="#231f20" transform="translate(24 321.15) scale(0.9 1)" stroke="#231f20" stroke-width="0.1">10</text>
<text x="0" y="0" font-size="9" text-anchor="end" fill="#231f20" transform="translate(24 303.35) scale(0.9 1)" stroke="#231f20" stroke-width="0.1">15</text>
<text x="0" y="0" font-size="9" text-anchor="end" fill="#231f20" transform="translate(24 285.55) scale(0.9 1)" stroke="#231f20" stroke-width="0.1">20</text>
<text x="0" y="0" font-size="9" text-anchor="end" fill="#231f20" transform="translate(24 267.75) scale(0.9 1)" stroke="#231f20" stroke-width="0.1">25</text>
<text x="0" y="0" font-size="9" text-anchor="end" fill="#231f20" transform="translate(24 249.95) scale(0.9 1)" stroke="#231f20" stroke-width="0.1">30</text>
<text x="0" y="0" font-size="9" text-anchor="end" fill="#231f20" transform="translate(24 232.15) scale(0.9 1)" stroke="#231f20" stroke-width="0.1">35</text>
<line x1="31" y1="353.6" x2="222" y2="353.6" stroke="#2b2425" stroke-width="1" stroke-linecap="butt"/>
<line x1="39.6" y1="353.6" x2="39.6" y2="356.2" stroke="#2b2425" stroke-width="1" stroke-linecap="butt"/>
<rect x="35.1" y="257.12" width="9" height="96.48" fill="#a0a0a0" stroke="#2a2526" stroke-width="1.25"/>
<text x="44.4" y="363" font-size="8.4" text-anchor="end" fill="#231f20" transform="rotate(-45 44.4 363)" stroke="#231f20" stroke-width="0.1">Gly</text>
<line x1="52" y1="353.6" x2="52" y2="356.2" stroke="#2b2425" stroke-width="1" stroke-linecap="butt"/>
<text x="56.8" y="363" font-size="8.4" text-anchor="end" fill="#231f20" transform="rotate(-45 56.8 363)" stroke="#231f20" stroke-width="0.1"><tspan font-size="5.8">L</tspan>-Ala</text>
<line x1="64.4" y1="353.6" x2="64.4" y2="356.2" stroke="#2b2425" stroke-width="1" stroke-linecap="butt"/>
<text x="69.2" y="363" font-size="8.4" text-anchor="end" fill="#231f20" transform="rotate(-45 69.2 363)" stroke="#231f20" stroke-width="0.1"><tspan font-size="5.8">D</tspan>-Glu</text>
<line x1="76.8" y1="353.6" x2="76.8" y2="356.2" stroke="#2b2425" stroke-width="1" stroke-linecap="butt"/>
<text x="81.6" y="363" font-size="8.4" text-anchor="end" fill="#231f20" transform="rotate(-45 81.6 363)" stroke="#231f20" stroke-width="0.1"><tspan font-size="5.8">L</tspan>-Lys</text>
<line x1="89.2" y1="353.6" x2="89.2" y2="356.2" stroke="#2b2425" stroke-width="1" stroke-linecap="butt"/>
<line x1="84.7" y1="352.8" x2="93.7" y2="352.8" stroke="#2a2526" stroke-width="1.2" stroke-linecap="butt"/>
<text x="94" y="363" font-size="8.4" text-anchor="end" fill="#231f20" transform="rotate(-45 94 363)" stroke="#231f20" stroke-width="0.1"><tspan font-size="5.8">D</tspan>-Ala</text>
<line x1="101.6" y1="353.6" x2="101.6" y2="356.2" stroke="#2b2425" stroke-width="1" stroke-linecap="butt"/>
<text x="106.4" y="363" font-size="8.4" text-anchor="end" fill="#231f20" transform="rotate(-45 106.4 363)" stroke="#231f20" stroke-width="0.1"><tspan font-size="5.8">L</tspan>-Glu</text>
<line x1="114" y1="353.6" x2="114" y2="356.2" stroke="#2b2425" stroke-width="1" stroke-linecap="butt"/>
<text x="118.8" y="363" font-size="8.4" text-anchor="end" fill="#231f20" transform="rotate(-45 118.8 363)" stroke="#231f20" stroke-width="0.1"><tspan font-size="5.8">D</tspan>-Gln</text>
<line x1="126.4" y1="353.6" x2="126.4" y2="356.2" stroke="#2b2425" stroke-width="1" stroke-linecap="butt"/>
<line x1="121.9" y1="352.8" x2="130.9" y2="352.8" stroke="#2a2526" stroke-width="1.2" stroke-linecap="butt"/>
<text x="131.2" y="363" font-size="8.4" text-anchor="end" fill="#231f20" transform="rotate(-45 131.2 363)" stroke="#231f20" stroke-width="0.1"><tspan font-size="5.8">D</tspan>-iso-Gln</text>
<line x1="138.8" y1="353.6" x2="138.8" y2="356.2" stroke="#2b2425" stroke-width="1" stroke-linecap="butt"/>
<text x="143.6" y="363" font-size="8.4" text-anchor="end" fill="#231f20" transform="rotate(-45 143.6 363)" stroke="#231f20" stroke-width="0.1"><tspan font-size="5.8">D</tspan>-Asp</text>
<line x1="151.2" y1="353.6" x2="151.2" y2="356.2" stroke="#2b2425" stroke-width="1" stroke-linecap="butt"/>
<text x="156" y="363" font-size="8.4" text-anchor="end" fill="#231f20" transform="rotate(-45 156 363)" stroke="#231f20" stroke-width="0.1"><tspan font-size="5.8">D</tspan>-Asn</text>
<line x1="163.6" y1="353.6" x2="163.6" y2="356.2" stroke="#2b2425" stroke-width="1" stroke-linecap="butt"/>
<text x="168.4" y="363" font-size="8.4" text-anchor="end" fill="#231f20" transform="rotate(-45 168.4 363)" stroke="#231f20" stroke-width="0.1"><tspan font-size="5.8">L</tspan>-Ser</text>
<line x1="176" y1="353.6" x2="176" y2="356.2" stroke="#2b2425" stroke-width="1" stroke-linecap="butt"/>
<line x1="171.5" y1="352.8" x2="180.5" y2="352.8" stroke="#2a2526" stroke-width="1.2" stroke-linecap="butt"/>
<text x="180.8" y="363" font-size="8.4" text-anchor="end" fill="#231f20" transform="rotate(-45 180.8 363)" stroke="#231f20" stroke-width="0.1"><tspan font-size="5.8">L</tspan>-Thr</text>
<line x1="188.4" y1="353.6" x2="188.4" y2="356.2" stroke="#2b2425" stroke-width="1" stroke-linecap="butt"/>
<text x="193.2" y="363" font-size="8.4" text-anchor="end" fill="#231f20" transform="rotate(-45 193.2 363)" stroke="#231f20" stroke-width="0.1">DAP</text>
<line x1="200.8" y1="353.6" x2="200.8" y2="356.2" stroke="#2b2425" stroke-width="1" stroke-linecap="butt"/>
<line x1="196.3" y1="352.8" x2="205.3" y2="352.8" stroke="#2a2526" stroke-width="1.2" stroke-linecap="butt"/>
<text x="205.6" y="363" font-size="8.4" text-anchor="end" fill="#231f20" transform="rotate(-45 205.6 363)" stroke="#231f20" stroke-width="0.1">meso-DAP</text>
<line x1="213.2" y1="353.6" x2="213.2" y2="356.2" stroke="#2b2425" stroke-width="1" stroke-linecap="butt"/>
<text x="218" y="363" font-size="8.4" text-anchor="end" fill="#231f20" transform="rotate(-45 218 363)" stroke="#231f20" stroke-width="0.1"><tspan font-size="5.8">L</tspan>-Orn</text>
<line x1="39.6" y1="242.53" x2="39.6" y2="271.01" stroke="#231f20" stroke-width="1.1" stroke-linecap="butt"/>
<line x1="38" y1="242.53" x2="41.2" y2="242.53" stroke="#231f20" stroke-width="1.1" stroke-linecap="butt"/>
<line x1="38" y1="271.01" x2="41.2" y2="271.01" stroke="#231f20" stroke-width="1.1" stroke-linecap="butt"/>
<text transform="translate(6.3 292.4) rotate(-90)" font-size="8.2" text-anchor="middle" fill="#231f20" stroke="#231f20" stroke-width="0.1"><tspan font-style="italic">psn</tspan> expression level (fold change)</text>
<text x="125.3" y="399" font-size="8.2" text-anchor="middle" fill="#231f20" stroke="#231f20" stroke-width="0.1">Inducer</text>
<text x="232.6" y="225.7" font-size="14" text-anchor="start" fill="#000" font-weight="bold" stroke="#000" stroke-width="0.1">d</text>
<line x1="266" y1="230" x2="266" y2="369" stroke="#2b2425" stroke-width="1.1" stroke-linecap="butt"/>
<line x1="266" y1="369" x2="262.4" y2="369" stroke="#2b2425" stroke-width="1.1" stroke-linecap="butt"/>
<line x1="266" y1="343.9" x2="262.4" y2="343.9" stroke="#2b2425" stroke-width="1.1" stroke-linecap="butt"/>
<line x1="266" y1="318.8" x2="262.4" y2="318.8" stroke="#2b2425" stroke-width="1.1" stroke-linecap="butt"/>
<line x1="266" y1="293.7" x2="262.4" y2="293.7" stroke="#2b2425" stroke-width="1.1" stroke-linecap="butt"/>
<line x1="266" y1="268.6" x2="262.4" y2="268.6" stroke="#2b2425" stroke-width="1.1" stroke-linecap="butt"/>
<line x1="266" y1="243.5" x2="262.4" y2="243.5" stroke="#2b2425" stroke-width="1.1" stroke-linecap="butt"/>
<line x1="266" y1="356.45" x2="264.1" y2="356.45" stroke="#2b2425" stroke-width="1.1" stroke-linecap="butt"/>
<line x1="266" y1="331.35" x2="264.1" y2="331.35" stroke="#2b2425" stroke-width="1.1" stroke-linecap="butt"/>
<line x1="266" y1="306.25" x2="264.1" y2="306.25" stroke="#2b2425" stroke-width="1.1" stroke-linecap="butt"/>
<line x1="266" y1="281.15" x2="264.1" y2="281.15" stroke="#2b2425" stroke-width="1.1" stroke-linecap="butt"/>
<line x1="266" y1="256.05" x2="264.1" y2="256.05" stroke="#2b2425" stroke-width="1.1" stroke-linecap="butt"/>
<line x1="266" y1="230.95" x2="264.1" y2="230.95" stroke="#2b2425" stroke-width="1.1" stroke-linecap="butt"/>
<text x="0" y="0" font-size="9" text-anchor="end" fill="#231f20" transform="translate(259 372.15) scale(0.9 1)" stroke="#231f20" stroke-width="0.1">0</text>
<text x="0" y="0" font-size="9" text-anchor="end" fill="#231f20" transform="translate(259 347.05) scale(0.9 1)" stroke="#231f20" stroke-width="0.1">5</text>
<text x="0" y="0" font-size="9" text-anchor="end" fill="#231f20" transform="translate(259 321.95) scale(0.9 1)" stroke="#231f20" stroke-width="0.1">10</text>
<text x="0" y="0" font-size="9" text-anchor="end" fill="#231f20" transform="translate(259 296.85) scale(0.9 1)" stroke="#231f20" stroke-width="0.1">15</text>
<text x="0" y="0" font-size="9" text-anchor="end" fill="#231f20" transform="translate(259 271.75) scale(0.9 1)" stroke="#231f20" stroke-width="0.1">20</text>
<text x="0" y="0" font-size="9" text-anchor="end" fill="#231f20" transform="translate(259 246.65) scale(0.9 1)" stroke="#231f20" stroke-width="0.1">25</text>
<line x1="266" y1="369" x2="438.6" y2="369" stroke="#2b2425" stroke-width="1.1" stroke-linecap="butt"/>
<line x1="328.4" y1="373.7" x2="333.5" y2="365.1" stroke="#2b2425" stroke-width="1.1" stroke-linecap="butt"/>
<line x1="331.5" y1="373.7" x2="336.6" y2="365.1" stroke="#2b2425" stroke-width="1.1" stroke-linecap="butt"/>
<line x1="273.8" y1="369" x2="273.8" y2="371.6" stroke="#2b2425" stroke-width="1" stroke-linecap="butt"/>
<rect x="269" y="364.48" width="9.6" height="4.52" fill="#c8c8c8" stroke="#2a2526" stroke-width="1.25"/>
<line x1="273.8" y1="363.48" x2="273.8" y2="365.49" stroke="#231f20" stroke-width="1.1" stroke-linecap="butt"/>
<line x1="272.2" y1="363.48" x2="275.4" y2="363.48" stroke="#231f20" stroke-width="1.1" stroke-linecap="butt"/>
<line x1="272.2" y1="365.49" x2="275.4" y2="365.49" stroke="#231f20" stroke-width="1.1" stroke-linecap="butt"/>
<text x="0" y="0" font-size="9" text-anchor="middle" fill="#231f20" transform="translate(273.8 382.2) scale(0.9 1)" stroke="#231f20" stroke-width="0.1">0.1</text>
<line x1="290.2" y1="369" x2="290.2" y2="371.6" stroke="#2b2425" stroke-width="1" stroke-linecap="butt"/>
<rect x="285.4" y="335.37" width="9.6" height="33.63" fill="#c8c8c8" stroke="#2a2526" stroke-width="1.25"/>
<line x1="290.2" y1="329.34" x2="290.2" y2="341.39" stroke="#231f20" stroke-width="1.1" stroke-linecap="butt"/>
<line x1="288.6" y1="329.34" x2="291.8" y2="329.34" stroke="#231f20" stroke-width="1.1" stroke-linecap="butt"/>
<line x1="288.6" y1="341.39" x2="291.8" y2="341.39" stroke="#231f20" stroke-width="1.1" stroke-linecap="butt"/>
<text x="0" y="0" font-size="9" text-anchor="middle" fill="#231f20" transform="translate(290.2 382.2) scale(0.9 1)" stroke="#231f20" stroke-width="0.1">0.25</text>
<line x1="307.3" y1="369" x2="307.3" y2="371.6" stroke="#2b2425" stroke-width="1" stroke-linecap="butt"/>
<rect x="302.5" y="309.26" width="9.6" height="59.74" fill="#c8c8c8" stroke="#2a2526" stroke-width="1.25"/>
<line x1="307.3" y1="301.23" x2="307.3" y2="317.29" stroke="#231f20" stroke-width="1.1" stroke-linecap="butt"/>
<line x1="305.7" y1="301.23" x2="308.9" y2="301.23" stroke="#231f20" stroke-width="1.1" stroke-linecap="butt"/>
<line x1="305.7" y1="317.29" x2="308.9" y2="317.29" stroke="#231f20" stroke-width="1.1" stroke-linecap="butt"/>
<text x="0" y="0" font-size="9" text-anchor="middle" fill="#231f20" transform="translate(307.3 382.2) scale(0.9 1)" stroke="#231f20" stroke-width="0.1">0.5</text>
<line x1="323.8" y1="369" x2="323.8" y2="371.6" stroke="#2b2425" stroke-width="1" stroke-linecap="butt"/>
<rect x="319" y="300.73" width="9.6" height="68.27" fill="#c8c8c8" stroke="#2a2526" stroke-width="1.25"/>
<line x1="323.8" y1="291.19" x2="323.8" y2="310.27" stroke="#231f20" stroke-width="1.1" stroke-linecap="butt"/>
<line x1="322.2" y1="291.19" x2="325.4" y2="291.19" stroke="#231f20" stroke-width="1.1" stroke-linecap="butt"/>
<line x1="322.2" y1="310.27" x2="325.4" y2="310.27" stroke="#231f20" stroke-width="1.1" stroke-linecap="butt"/>
<text x="0" y="0" font-size="9" text-anchor="middle" fill="#231f20" transform="translate(323.8 382.2) scale(0.9 1)" stroke="#231f20" stroke-width="0.1">1</text>
<line x1="343.5" y1="369" x2="343.5" y2="371.6" stroke="#2b2425" stroke-width="1" stroke-linecap="butt"/>
<rect x="338.7" y="290.19" width="9.6" height="78.81" fill="#888888" stroke="#2a2526" stroke-width="1.25"/>
<line x1="343.5" y1="284.16" x2="343.5" y2="296.21" stroke="#231f20" stroke-width="1.1" stroke-linecap="butt"/>
<line x1="341.9" y1="284.16" x2="345.1" y2="284.16" stroke="#231f20" stroke-width="1.1" stroke-linecap="butt"/>
<line x1="341.9" y1="296.21" x2="345.1" y2="296.21" stroke="#231f20" stroke-width="1.1" stroke-linecap="butt"/>
<text x="0" y="0" font-size="9" text-anchor="middle" fill="#231f20" transform="translate(343.5 382.2) scale(0.9 1)" stroke="#231f20" stroke-width="0.1">2</text>
<line x1="358.5" y1="369" x2="358.5" y2="371.6" stroke="#2b2425" stroke-width="1" stroke-linecap="butt"/>
<rect x="353.7" y="286.67" width="9.6" height="82.33" fill="#888888" stroke="#2a2526" stroke-width="1.25"/>
<line x1="358.5" y1="281.15" x2="358.5" y2="292.19" stroke="#231f20" stroke-width="1.1" stroke-linecap="butt"/>
<line x1="356.9" y1="281.15" x2="360.1" y2="281.15" stroke="#231f20" stroke-width="1.1" stroke-linecap="butt"/>
<line x1="356.9" y1="292.19" x2="360.1" y2="292.19" stroke="#231f20" stroke-width="1.1" stroke-linecap="butt"/>
<text x="0" y="0" font-size="9" text-anchor="middle" fill="#231f20" transform="translate(358.5 382.2) scale(0.9 1)" stroke="#231f20" stroke-width="0.1">4</text>
<line x1="372.8" y1="369" x2="372.8" y2="371.6" stroke="#2b2425" stroke-width="1" stroke-linecap="butt"/>
<rect x="368" y="253.04" width="9.6" height="115.96" fill="#888888" stroke="#2a2526" stroke-width="1.25"/>
<line x1="372.8" y1="244.5" x2="372.8" y2="261.57" stroke="#231f20" stroke-width="1.1" stroke-linecap="butt"/>
<line x1="371.2" y1="244.5" x2="374.4" y2="244.5" stroke="#231f20" stroke-width="1.1" stroke-linecap="butt"/>
<line x1="371.2" y1="261.57" x2="374.4" y2="261.57" stroke="#231f20" stroke-width="1.1" stroke-linecap="butt"/>
<text x="0" y="0" font-size="9" text-anchor="middle" fill="#231f20" transform="translate(372.8 382.2) scale(0.9 1)" stroke="#231f20" stroke-width="0.1">6</text>
<line x1="387.2" y1="369" x2="387.2" y2="371.6" stroke="#2b2425" stroke-width="1" stroke-linecap="butt"/>
<rect x="382.4" y="303.24" width="9.6" height="65.76" fill="#888888" stroke="#2a2526" stroke-width="1.25"/>
<line x1="387.2" y1="295.21" x2="387.2" y2="311.27" stroke="#231f20" stroke-width="1.1" stroke-linecap="butt"/>
<line x1="385.6" y1="295.21" x2="388.8" y2="295.21" stroke="#231f20" stroke-width="1.1" stroke-linecap="butt"/>
<line x1="385.6" y1="311.27" x2="388.8" y2="311.27" stroke="#231f20" stroke-width="1.1" stroke-linecap="butt"/>
<text x="0" y="0" font-size="9" text-anchor="middle" fill="#231f20" transform="translate(387.2 382.2) scale(0.9 1)" stroke="#231f20" stroke-width="0.1">8</text>
<line x1="401.8" y1="369" x2="401.8" y2="371.6" stroke="#2b2425" stroke-width="1" stroke-linecap="butt"/>
<rect x="397" y="348.42" width="9.6" height="20.58" fill="#888888" stroke="#2a2526" stroke-width="1.25"/>
<line x1="401.8" y1="343.9" x2="401.8" y2="352.94" stroke="#231f20" stroke-width="1.1" stroke-linecap="butt"/>
<line x1="400.2" y1="343.9" x2="403.4" y2="343.9" stroke="#231f20" stroke-width="1.1" stroke-linecap="butt"/>
<line x1="400.2" y1="352.94" x2="403.4" y2="352.94" stroke="#231f20" stroke-width="1.1" stroke-linecap="butt"/>
<text x="0" y="0" font-size="9" text-anchor="middle" fill="#231f20" transform="translate(401.8 382.2) scale(0.9 1)" stroke="#231f20" stroke-width="0.1">20</text>
<line x1="416.2" y1="369" x2="416.2" y2="371.6" stroke="#2b2425" stroke-width="1" stroke-linecap="butt"/>
<rect x="411.4" y="353.94" width="9.6" height="15.06" fill="#888888" stroke="#2a2526" stroke-width="1.25"/>
<line x1="416.2" y1="352.43" x2="416.2" y2="355.45" stroke="#231f20" stroke-width="1.1" stroke-linecap="butt"/>
<line x1="414.6" y1="352.43" x2="417.8" y2="352.43" stroke="#231f20" stroke-width="1.1" stroke-linecap="butt"/>
<line x1="414.6" y1="355.45" x2="417.8" y2="355.45" stroke="#231f20" stroke-width="1.1" stroke-linecap="butt"/>
<text x="0" y="0" font-size="9" text-anchor="middle" fill="#231f20" transform="translate(416.2 382.2) scale(0.9 1)" stroke="#231f20" stroke-width="0.1">30</text>
<line x1="431" y1="369" x2="431" y2="371.6" stroke="#2b2425" stroke-width="1" stroke-linecap="butt"/>
<rect x="426.2" y="354.44" width="9.6" height="14.56" fill="#888888" stroke="#2a2526" stroke-width="1.25"/>
<line x1="431" y1="352.94" x2="431" y2="355.95" stroke="#231f20" stroke-width="1.1" stroke-linecap="butt"/>
<line x1="429.4" y1="352.94" x2="432.6" y2="352.94" stroke="#231f20" stroke-width="1.1" stroke-linecap="butt"/>
<line x1="429.4" y1="355.95" x2="432.6" y2="355.95" stroke="#231f20" stroke-width="1.1" stroke-linecap="butt"/>
<text x="0" y="0" font-size="9" text-anchor="middle" fill="#231f20" transform="translate(431 382.2) scale(0.9 1)" stroke="#231f20" stroke-width="0.1">40</text>
<rect x="275.5" y="234.9" width="10.6" height="7.2" fill="#c8c8c8" stroke="#2a2526" stroke-width="1"/>
<rect x="275.5" y="248.1" width="10.6" height="7.2" fill="#888888" stroke="#2a2526" stroke-width="1"/>
<text x="291" y="241.1" font-size="6.85" text-anchor="start" fill="#231f20" stroke="#231f20" stroke-width="0.1">Detected at 0.5 h</text>
<text x="291" y="254.5" font-size="6.85" text-anchor="start" fill="#231f20" stroke="#231f20" stroke-width="0.1">Detected at 6 h</text>
<text transform="translate(239.2 306.6) rotate(-90)" font-size="8.2" text-anchor="middle" fill="#231f20" stroke="#231f20" stroke-width="0.1"><tspan font-style="italic">psn</tspan> expression level (fold change)</text>
<text x="361.8" y="396.7" font-size="8.2" text-anchor="middle" fill="#231f20" stroke="#231f20" stroke-width="0.1">Glycine concentration (mM)</text>
<text x="449.4" y="225.8" font-size="14" text-anchor="start" fill="#000" font-weight="bold" stroke="#000" stroke-width="0.1">e</text>
<line x1="481" y1="235.15" x2="481" y2="368.8" stroke="#2b2425" stroke-width="1.1" stroke-linecap="butt"/>
<line x1="481" y1="359.4" x2="477.4" y2="359.4" stroke="#2b2425" stroke-width="1.1" stroke-linecap="butt"/>
<line x1="481" y1="341.65" x2="477.4" y2="341.65" stroke="#2b2425" stroke-width="1.1" stroke-linecap="butt"/>
<line x1="481" y1="323.9" x2="477.4" y2="323.9" stroke="#2b2425" stroke-width="1.1" stroke-linecap="butt"/>
<line x1="481" y1="306.15" x2="477.4" y2="306.15" stroke="#2b2425" stroke-width="1.1" stroke-linecap="butt"/>
<line x1="481" y1="288.4" x2="477.4" y2="288.4" stroke="#2b2425" stroke-width="1.1" stroke-linecap="butt"/>
<line x1="481" y1="270.65" x2="477.4" y2="270.65" stroke="#2b2425" stroke-width="1.1" stroke-linecap="butt"/>
<line x1="481" y1="252.9" x2="477.4" y2="252.9" stroke="#2b2425" stroke-width="1.1" stroke-linecap="butt"/>
<line x1="481" y1="235.15" x2="477.4" y2="235.15" stroke="#2b2425" stroke-width="1.1" stroke-linecap="butt"/>
<line x1="481" y1="368.27" x2="479.1" y2="368.27" stroke="#2b2425" stroke-width="1.1" stroke-linecap="butt"/>
<line x1="481" y1="350.52" x2="479.1" y2="350.52" stroke="#2b2425" stroke-width="1.1" stroke-linecap="butt"/>
<line x1="481" y1="332.77" x2="479.1" y2="332.77" stroke="#2b2425" stroke-width="1.1" stroke-linecap="butt"/>
<line x1="481" y1="315.02" x2="479.1" y2="315.02" stroke="#2b2425" stroke-width="1.1" stroke-linecap="butt"/>
<line x1="481" y1="297.27" x2="479.1" y2="297.27" stroke="#2b2425" stroke-width="1.1" stroke-linecap="butt"/>
<line x1="481" y1="279.52" x2="479.1" y2="279.52" stroke="#2b2425" stroke-width="1.1" stroke-linecap="butt"/>
<line x1="481" y1="261.77" x2="479.1" y2="261.77" stroke="#2b2425" stroke-width="1.1" stroke-linecap="butt"/>
<line x1="481" y1="244.02" x2="479.1" y2="244.02" stroke="#2b2425" stroke-width="1.1" stroke-linecap="butt"/>
<text x="0" y="0" font-size="9" text-anchor="end" fill="#231f20" transform="translate(474 362.55) scale(0.9 1)" stroke="#231f20" stroke-width="0.1">0</text>
<text x="0" y="0" font-size="9" text-anchor="end" fill="#231f20" transform="translate(474 344.8) scale(0.9 1)" stroke="#231f20" stroke-width="0.1">10</text>
<text x="0" y="0" font-size="9" text-anchor="end" fill="#231f20" transform="translate(474 327.05) scale(0.9 1)" stroke="#231f20" stroke-width="0.1">20</text>
<text x="0" y="0" font-size="9" text-anchor="end" fill="#231f20" transform="translate(474 309.3) scale(0.9 1)" stroke="#231f20" stroke-width="0.1">30</text>
<text x="0" y="0" font-size="9" text-anchor="end" fill="#231f20" transform="translate(474 291.55) scale(0.9 1)" stroke="#231f20" stroke-width="0.1">40</text>
<text x="0" y="0" font-size="9" text-anchor="end" fill="#231f20" transform="translate(474 273.8) scale(0.9 1)" stroke="#231f20" stroke-width="0.1">50</text>
<text x="0" y="0" font-size="9" text-anchor="end" fill="#231f20" transform="translate(474 256.05) scale(0.9 1)" stroke="#231f20" stroke-width="0.1">60</text>
<text x="0" y="0" font-size="9" text-anchor="end" fill="#231f20" transform="translate(474 238.3) scale(0.9 1)" stroke="#231f20" stroke-width="0.1">70</text>
<line x1="481" y1="368.8" x2="684.5" y2="368.8" stroke="#2b2425" stroke-width="1.1" stroke-linecap="butt"/>
<line x1="493" y1="368.8" x2="493" y2="371.8" stroke="#2b2425" stroke-width="1.1" stroke-linecap="butt"/>
<line x1="515.45" y1="368.8" x2="515.45" y2="371.8" stroke="#2b2425" stroke-width="1.1" stroke-linecap="butt"/>
<line x1="537.9" y1="368.8" x2="537.9" y2="371.8" stroke="#2b2425" stroke-width="1.1" stroke-linecap="butt"/>
<line x1="560.35" y1="368.8" x2="560.35" y2="371.8" stroke="#2b2425" stroke-width="1.1" stroke-linecap="butt"/>
<line x1="582.8" y1="368.8" x2="582.8" y2="371.8" stroke="#2b2425" stroke-width="1.1" stroke-linecap="butt"/>
<line x1="605.25" y1="368.8" x2="605.25" y2="371.8" stroke="#2b2425" stroke-width="1.1" stroke-linecap="butt"/>
<line x1="627.7" y1="368.8" x2="627.7" y2="371.8" stroke="#2b2425" stroke-width="1.1" stroke-linecap="butt"/>
<line x1="650.15" y1="368.8" x2="650.15" y2="371.8" stroke="#2b2425" stroke-width="1.1" stroke-linecap="butt"/>
<line x1="672.6" y1="368.8" x2="672.6" y2="371.8" stroke="#2b2425" stroke-width="1.1" stroke-linecap="butt"/>
<line x1="481.77" y1="368.8" x2="481.77" y2="370.6" stroke="#2b2425" stroke-width="1.1" stroke-linecap="butt"/>
<line x1="504.23" y1="368.8" x2="504.23" y2="370.6" stroke="#2b2425" stroke-width="1.1" stroke-linecap="butt"/>
<line x1="526.67" y1="368.8" x2="526.67" y2="370.6" stroke="#2b2425" stroke-width="1.1" stroke-linecap="butt"/>
<line x1="549.12" y1="368.8" x2="549.12" y2="370.6" stroke="#2b2425" stroke-width="1.1" stroke-linecap="butt"/>
<line x1="571.58" y1="368.8" x2="571.58" y2="370.6" stroke="#2b2425" stroke-width="1.1" stroke-linecap="butt"/>
<line x1="594.02" y1="368.8" x2="594.02" y2="370.6" stroke="#2b2425" stroke-width="1.1" stroke-linecap="butt"/>
<line x1="616.48" y1="368.8" x2="616.48" y2="370.6" stroke="#2b2425" stroke-width="1.1" stroke-linecap="butt"/>
<line x1="638.92" y1="368.8" x2="638.92" y2="370.6" stroke="#2b2425" stroke-width="1.1" stroke-linecap="butt"/>
<line x1="661.38" y1="368.8" x2="661.38" y2="370.6" stroke="#2b2425" stroke-width="1.1" stroke-linecap="butt"/>
<text x="0" y="0" font-size="9" text-anchor="middle" fill="#231f20" transform="translate(493 382) scale(0.9 1)" stroke="#231f20" stroke-width="0.1">10</text>
<text x="0" y="0" font-size="9" text-anchor="middle" fill="#231f20" transform="translate(515.45 382) scale(0.9 1)" stroke="#231f20" stroke-width="0.1">15</text>
<text x="0" y="0" font-size="9" text-anchor="middle" fill="#231f20" transform="translate(537.9 382) scale(0.9 1)" stroke="#231f20" stroke-width="0.1">20</text>
<text x="0" y="0" font-size="9" text-anchor="middle" fill="#231f20" transform="translate(560.35 382) scale(0.9 1)" stroke="#231f20" stroke-width="0.1">25</text>
<text x="0" y="0" font-size="9" text-anchor="middle" fill="#231f20" transform="translate(582.8 382) scale(0.9 1)" stroke="#231f20" stroke-width="0.1">30</text>
<text x="0" y="0" font-size="9" text-anchor="middle" fill="#231f20" transform="translate(605.25 382) scale(0.9 1)" stroke="#231f20" stroke-width="0.1">35</text>
<text x="0" y="0" font-size="9" text-anchor="middle" fill="#231f20" transform="translate(627.7 382) scale(0.9 1)" stroke="#231f20" stroke-width="0.1">40</text>
<text x="0" y="0" font-size="9" text-anchor="middle" fill="#231f20" transform="translate(650.15 382) scale(0.9 1)" stroke="#231f20" stroke-width="0.1">45</text>
<text x="0" y="0" font-size="9" text-anchor="middle" fill="#231f20" transform="translate(672.6 382) scale(0.9 1)" stroke="#231f20" stroke-width="0.1">50</text>
<text transform="translate(455.8 296) rotate(-90)" font-size="8.3" text-anchor="middle" fill="#231f20" stroke="#231f20" stroke-width="0.1">Pseudoalterin production (U/ml)</text>
<text x="582" y="396" font-size="8.2" text-anchor="middle" fill="#231f20" stroke="#231f20" stroke-width="0.1">Time (h)</text>
<polyline points="501.98,355.85 555.86,356.74 609.74,356.74 663.62,355.85" fill="none" stroke="#231f20" stroke-width="1.2" stroke-dasharray="3.2,1.7" stroke-linejoin="round"/>
<polyline points="501.98,354.07 555.86,351.41 609.74,337.03 663.62,337.03" fill="none" stroke="#e41e26" stroke-width="1.4" stroke-linejoin="round"/>
<polyline points="501.98,354.07 555.86,318.22 609.74,324.61 663.62,330.64" fill="none" stroke="#1e74be" stroke-width="1.4" stroke-linejoin="round"/>
<polyline points="501.98,352.3 555.86,249.35 609.74,273.31 663.62,283.43" fill="none" stroke="#f0981e" stroke-width="1.4" stroke-linejoin="round"/>
<line x1="555.86" y1="311.47" x2="555.86" y2="324.79" stroke="#1e74be" stroke-width="1.0" stroke-linecap="butt"/>
<line x1="554.56" y1="311.47" x2="557.16" y2="311.47" stroke="#1e74be" stroke-width="1.0" stroke-linecap="butt"/>
<line x1="554.56" y1="324.79" x2="557.16" y2="324.79" stroke="#1e74be" stroke-width="1.0" stroke-linecap="butt"/>
<line x1="609.74" y1="322.12" x2="609.74" y2="326.92" stroke="#1e74be" stroke-width="1.0" stroke-linecap="butt"/>
<line x1="608.44" y1="322.12" x2="611.04" y2="322.12" stroke="#1e74be" stroke-width="1.0" stroke-linecap="butt"/>
<line x1="608.44" y1="326.92" x2="611.04" y2="326.92" stroke="#1e74be" stroke-width="1.0" stroke-linecap="butt"/>
<line x1="663.62" y1="327.45" x2="663.62" y2="333.66" stroke="#1e74be" stroke-width="1.0" stroke-linecap="butt"/>
<line x1="662.32" y1="327.45" x2="664.92" y2="327.45" stroke="#1e74be" stroke-width="1.0" stroke-linecap="butt"/>
<line x1="662.32" y1="333.66" x2="664.92" y2="333.66" stroke="#1e74be" stroke-width="1.0" stroke-linecap="butt"/>
<line x1="609.74" y1="334.02" x2="609.74" y2="340.05" stroke="#e41e26" stroke-width="1.0" stroke-linecap="butt"/>
<line x1="608.44" y1="334.02" x2="611.04" y2="334.02" stroke="#e41e26" stroke-width="1.0" stroke-linecap="butt"/>
<line x1="608.44" y1="340.05" x2="611.04" y2="340.05" stroke="#e41e26" stroke-width="1.0" stroke-linecap="butt"/>
<line x1="609.74" y1="264.44" x2="609.74" y2="282.19" stroke="#f0981e" stroke-width="1.0" stroke-linecap="butt"/>
<line x1="608.44" y1="264.44" x2="611.04" y2="264.44" stroke="#f0981e" stroke-width="1.0" stroke-linecap="butt"/>
<line x1="608.44" y1="282.19" x2="611.04" y2="282.19" stroke="#f0981e" stroke-width="1.0" stroke-linecap="butt"/>
<line x1="663.62" y1="276.86" x2="663.62" y2="290.17" stroke="#f0981e" stroke-width="1.0" stroke-linecap="butt"/>
<line x1="662.32" y1="276.86" x2="664.92" y2="276.86" stroke="#f0981e" stroke-width="1.0" stroke-linecap="butt"/>
<line x1="662.32" y1="290.17" x2="664.92" y2="290.17" stroke="#f0981e" stroke-width="1.0" stroke-linecap="butt"/>
<rect x="499.34" y="353.2" width="5.29" height="5.29" fill="#d8d6d6" stroke="#231f20" stroke-width="1.3"/>
<line x1="499.38" y1="355.85" x2="504.58" y2="355.85" stroke="#231f20" stroke-width="1.0" stroke-linecap="butt"/>
<line x1="501.98" y1="353.25" x2="501.98" y2="358.45" stroke="#231f20" stroke-width="1.0" stroke-linecap="butt"/>
<rect x="553.22" y="354.09" width="5.29" height="5.29" fill="#d8d6d6" stroke="#231f20" stroke-width="1.3"/>
<line x1="553.26" y1="356.74" x2="558.46" y2="356.74" stroke="#231f20" stroke-width="1.0" stroke-linecap="butt"/>
<line x1="555.86" y1="354.14" x2="555.86" y2="359.34" stroke="#231f20" stroke-width="1.0" stroke-linecap="butt"/>
<rect x="607.1" y="354.09" width="5.29" height="5.29" fill="#d8d6d6" stroke="#231f20" stroke-width="1.3"/>
<line x1="607.14" y1="356.74" x2="612.34" y2="356.74" stroke="#231f20" stroke-width="1.0" stroke-linecap="butt"/>
<line x1="609.74" y1="354.14" x2="609.74" y2="359.34" stroke="#231f20" stroke-width="1.0" stroke-linecap="butt"/>
<rect x="660.98" y="353.2" width="5.29" height="5.29" fill="#d8d6d6" stroke="#231f20" stroke-width="1.3"/>
<line x1="661.02" y1="355.85" x2="666.22" y2="355.85" stroke="#231f20" stroke-width="1.0" stroke-linecap="butt"/>
<line x1="663.62" y1="353.25" x2="663.62" y2="358.45" stroke="#231f20" stroke-width="1.0" stroke-linecap="butt"/>
<circle cx="501.98" cy="354.07" r="2.99" fill="#e41e26" stroke="#e41e26" stroke-width="1.0"/>
<circle cx="555.86" cy="351.41" r="2.99" fill="#e41e26" stroke="#e41e26" stroke-width="1.0"/>
<circle cx="609.74" cy="337.03" r="2.99" fill="#e41e26" stroke="#e41e26" stroke-width="1.0"/>
<circle cx="663.62" cy="337.03" r="2.99" fill="#e41e26" stroke="#e41e26" stroke-width="1.0"/>
<polygon points="501.98,350.64 505.27,356.65 498.69,356.65" fill="white" stroke="#1e74be" stroke-width="1.0" stroke-linejoin="miter"/>
<polygon points="555.86,314.78 559.15,320.8 552.57,320.8" fill="white" stroke="#1e74be" stroke-width="1.0" stroke-linejoin="miter"/>
<polygon points="609.74,321.17 613.03,327.19 606.45,327.19" fill="white" stroke="#1e74be" stroke-width="1.0" stroke-linejoin="miter"/>
<polygon points="663.62,327.21 666.91,333.22 660.33,333.22" fill="white" stroke="#1e74be" stroke-width="1.0" stroke-linejoin="miter"/>
<polygon points="501.98,356 505.52,349.52 498.44,349.52" fill="#f0981e" stroke="#f0981e" stroke-width="1.0" stroke-linejoin="miter"/>
<polygon points="555.86,253.05 559.4,246.57 552.32,246.57" fill="#f0981e" stroke="#f0981e" stroke-width="1.0" stroke-linejoin="miter"/>
<polygon points="609.74,277.02 613.28,270.54 606.2,270.54" fill="#f0981e" stroke="#f0981e" stroke-width="1.0" stroke-linejoin="miter"/>
<polygon points="663.62,287.13 667.16,280.65 660.08,280.65" fill="#f0981e" stroke="#f0981e" stroke-width="1.0" stroke-linejoin="miter"/>
<line x1="567" y1="229.4" x2="582" y2="229.4" stroke="#231f20" stroke-width="1" stroke-dasharray="2.2,1.2" stroke-linecap="butt"/>
<rect x="572.2" y="227.1" width="4.6" height="4.6" fill="white" stroke="#231f20" stroke-width="0.9"/>
<line x1="567" y1="236.4" x2="582" y2="236.4" stroke="#e41e26" stroke-width="1.2" stroke-linecap="butt"/>
<circle cx="574.5" cy="236.4" r="2.88" fill="#e41e26" stroke="#e41e26" stroke-width="1.0"/>
<line x1="567" y1="243.4" x2="582" y2="243.4" stroke="#1e74be" stroke-width="1.2" stroke-linecap="butt"/>
<polygon points="574.5,240.23 577.54,245.78 571.46,245.78" fill="white" stroke="#1e74be" stroke-width="1.0" stroke-linejoin="miter"/>
<line x1="567" y1="250.4" x2="582" y2="250.4" stroke="#f0981e" stroke-width="1.2" stroke-linecap="butt"/>
<polygon points="574.5,253.84 577.79,247.82 571.21,247.82" fill="#f0981e" stroke="#f0981e" stroke-width="1.0" stroke-linejoin="miter"/>
<text x="585.6" y="231.8" font-size="6.95" text-anchor="start" fill="#231f20" stroke="#231f20" stroke-width="0.1">No addition</text>
<text x="585.6" y="238.8" font-size="6.95" text-anchor="start" fill="#231f20" stroke="#231f20" stroke-width="0.1">Addition at 0 h</text>
<text x="585.6" y="245.8" font-size="6.95" text-anchor="start" fill="#231f20" stroke="#231f20" stroke-width="0.1">Addition at 0 and 6 h</text>
<text x="585.6" y="252.8" font-size="6.95" text-anchor="start" fill="#231f20" stroke="#231f20" stroke-width="0.1">Addition at 0, 6 and 12 h</text>
<text x="-0.8" y="421.2" font-size="14" text-anchor="start" fill="#000" font-weight="bold" stroke="#000" stroke-width="0.1">f</text>
<polygon points="67.6,429 87.4,429 87.4,417.6 94,438.5 87.4,459.6 87.4,448 67.6,448" fill="#2ea3da" stroke="#231f20" stroke-width="1.05" stroke-linejoin="miter"/>
<text x="77.5" y="441.1" font-size="8" text-anchor="middle" fill="#231f20" font-style="italic" stroke="#231f20" stroke-width="0.08">A</text>
<polygon points="97.2,429 118.6,429 118.6,417.6 126,438.5 118.6,459.6 118.6,448 97.2,448" fill="#2ea3da" stroke="#231f20" stroke-width="1.05" stroke-linejoin="miter"/>
<text x="109.3" y="441.1" font-size="8" text-anchor="middle" fill="#231f20" font-style="italic" stroke="#231f20" stroke-width="0.08">B</text>
<polygon points="195,429 175.4,429 175.4,417.6 168.6,438.5 175.4,459.6 175.4,448 195,448" fill="#ef9921" stroke="#231f20" stroke-width="1.05" stroke-linejoin="miter"/>
<text x="182.8" y="441.1" font-size="8" text-anchor="middle" fill="#231f20" font-style="italic" stroke="#231f20" stroke-width="0.08">O</text>
<polygon points="247,429 266.6,429 266.6,417 273.6,438.5 266.6,460 266.6,448 247,448" fill="#ef9921" stroke="#231f20" stroke-width="1.05" stroke-linejoin="miter"/>
<text x="259" y="441.1" font-size="8" text-anchor="middle" fill="#231f20" font-style="italic" stroke="#231f20" stroke-width="0.08">C</text>
<polygon points="275.4,429 321,429 321,419 336,438.5 321,458.4 321,448 275.4,448" fill="#ef9921" stroke="#231f20" stroke-width="1.05" stroke-linejoin="miter"/>
<text x="303.3" y="441.1" font-size="8" text-anchor="middle" fill="#231f20" font-style="italic" stroke="#231f20" stroke-width="0.08">D</text>
<polygon points="337.4,429 371,429 371,419 381.6,438.5 371,459 371,448 337.4,448" fill="#ef9921" stroke="#231f20" stroke-width="1.05" stroke-linejoin="miter"/>
<text x="356.5" y="441.1" font-size="8" text-anchor="middle" fill="#231f20" font-style="italic" stroke="#231f20" stroke-width="0.08">E</text>
<polygon points="384.4,429 411.6,429 411.6,418 421,438.5 411.6,459 411.6,448 384.4,448" fill="#ef9921" stroke="#231f20" stroke-width="1.05" stroke-linejoin="miter"/>
<text x="399.8" y="441.1" font-size="8" text-anchor="middle" fill="#231f20" font-style="italic" stroke="#231f20" stroke-width="0.08">F</text>
<polygon points="423.6,429 433.4,429 433.4,419.6 436.6,438.5 433.4,457.6 433.4,448 423.6,448" fill="#ef9921" stroke="#231f20" stroke-width="1.05" stroke-linejoin="miter"/>
<text x="429" y="441.1" font-size="8" text-anchor="middle" fill="#231f20" font-style="italic" stroke="#231f20" stroke-width="0.08">G</text>
<polygon points="439.6,429 453,429 453,416 458.4,438.5 453,461 453,448 439.6,448" fill="#ef9921" stroke="#231f20" stroke-width="1.05" stroke-linejoin="miter"/>
<text x="446" y="441.1" font-size="8" text-anchor="middle" fill="#231f20" font-style="italic" stroke="#231f20" stroke-width="0.08">H</text>
<polygon points="460.4,429 468.6,429 468.6,419.6 471.4,438.5 468.6,457.6 468.6,448 460.4,448" fill="#ef9921" stroke="#231f20" stroke-width="1.05" stroke-linejoin="miter"/>
<text x="464" y="441.1" font-size="8" text-anchor="middle" fill="#231f20" font-style="italic" stroke="#231f20" stroke-width="0.08">I</text>
<polygon points="475.4,429 489.6,429 489.6,417 494.4,438.5 489.6,460.4 489.6,448 475.4,448" fill="#ef9921" stroke="#231f20" stroke-width="1.05" stroke-linejoin="miter"/>
<text x="481" y="441.1" font-size="8" text-anchor="middle" fill="#231f20" font-style="italic" stroke="#231f20" stroke-width="0.08">J</text>
<polygon points="496.4,429 518,429 518,417.6 525.6,438.5 518,459 518,448 496.4,448" fill="#ef9921" stroke="#231f20" stroke-width="1.05" stroke-linejoin="miter"/>
<text x="508.4" y="441.1" font-size="8" text-anchor="middle" fill="#231f20" font-style="italic" stroke="#231f20" stroke-width="0.08">K</text>
<polygon points="527.4,429 553,429 553,418 561.6,438.5 553,459 553,448 527.4,448" fill="#ef9921" stroke="#231f20" stroke-width="1.05" stroke-linejoin="miter"/>
<text x="541.6" y="441.1" font-size="8" text-anchor="middle" fill="#231f20" font-style="italic" stroke="#231f20" stroke-width="0.08">L</text>
<polygon points="563.4,429 573.2,429 573.2,419.6 576.6,438.5 573.2,457.6 573.2,448 563.4,448" fill="#ef9921" stroke="#231f20" stroke-width="1.05" stroke-linejoin="miter"/>
<text x="569.4" y="441.1" font-size="8" text-anchor="middle" fill="#231f20" font-style="italic" stroke="#231f20" stroke-width="0.08">M</text>
<polygon points="579.4,429 595.6,429 595.6,417 601,438.5 595.6,460 595.6,448 579.4,448" fill="#0a9dd7" stroke="#231f20" stroke-width="1.05" stroke-linejoin="miter"/>
<text x="588" y="441.1" font-size="8" text-anchor="middle" fill="#231f20" font-style="italic" stroke="#231f20" stroke-width="0.08">N</text>
<text x="-0.6" y="485.2" font-size="14" text-anchor="start" fill="#000" font-weight="bold" stroke="#000" stroke-width="0.1">g</text>
<rect x="18.2" y="484.6" width="285.4" height="276.6" fill="none" stroke="#4a4546" stroke-width="1.2" stroke-dasharray="3.4,1.9"/>
<line x1="60.2" y1="492.6" x2="60.2" y2="661.6" stroke="#2b2425" stroke-width="1.1" stroke-linecap="butt"/>
<line x1="60.2" y1="550" x2="56.6" y2="550" stroke="#2b2425" stroke-width="1.1" stroke-linecap="butt"/>
<text x="0" y="0" font-size="9" text-anchor="end" fill="#231f20" transform="translate(53.2 553.15) scale(0.9 1)" stroke="#231f20" stroke-width="0.1">20</text>
<line x1="60.2" y1="535.65" x2="56.6" y2="535.65" stroke="#2b2425" stroke-width="1.1" stroke-linecap="butt"/>
<text x="0" y="0" font-size="9" text-anchor="end" fill="#231f20" transform="translate(53.2 538.8) scale(0.9 1)" stroke="#231f20" stroke-width="0.1">40</text>
<line x1="60.2" y1="521.3" x2="56.6" y2="521.3" stroke="#2b2425" stroke-width="1.1" stroke-linecap="butt"/>
<text x="0" y="0" font-size="9" text-anchor="end" fill="#231f20" transform="translate(53.2 524.45) scale(0.9 1)" stroke="#231f20" stroke-width="0.1">60</text>
<line x1="60.2" y1="506.95" x2="56.6" y2="506.95" stroke="#2b2425" stroke-width="1.1" stroke-linecap="butt"/>
<text x="0" y="0" font-size="9" text-anchor="end" fill="#231f20" transform="translate(53.2 510.1) scale(0.9 1)" stroke="#231f20" stroke-width="0.1">80</text>
<line x1="60.2" y1="492.6" x2="56.6" y2="492.6" stroke="#2b2425" stroke-width="1.1" stroke-linecap="butt"/>
<text x="0" y="0" font-size="9" text-anchor="end" fill="#231f20" transform="translate(53.2 495.75) scale(0.9 1)" stroke="#231f20" stroke-width="0.1">100</text>
<line x1="60.2" y1="542.83" x2="58.3" y2="542.83" stroke="#2b2425" stroke-width="1.1" stroke-linecap="butt"/>
<line x1="60.2" y1="528.48" x2="58.3" y2="528.48" stroke="#2b2425" stroke-width="1.1" stroke-linecap="butt"/>
<line x1="60.2" y1="514.12" x2="58.3" y2="514.12" stroke="#2b2425" stroke-width="1.1" stroke-linecap="butt"/>
<line x1="60.2" y1="499.77" x2="58.3" y2="499.77" stroke="#2b2425" stroke-width="1.1" stroke-linecap="butt"/>
<line x1="60.2" y1="661.6" x2="56.6" y2="661.6" stroke="#2b2425" stroke-width="1.1" stroke-linecap="butt"/>
<text x="0" y="0" font-size="9" text-anchor="end" fill="#231f20" transform="translate(53.2 664.75) scale(0.9 1)" stroke="#231f20" stroke-width="0.1">0</text>
<line x1="60.2" y1="649" x2="56.6" y2="649" stroke="#2b2425" stroke-width="1.1" stroke-linecap="butt"/>
<text x="0" y="0" font-size="9" text-anchor="end" fill="#231f20" transform="translate(53.2 652.15) scale(0.9 1)" stroke="#231f20" stroke-width="0.1">1</text>
<line x1="60.2" y1="636.4" x2="56.6" y2="636.4" stroke="#2b2425" stroke-width="1.1" stroke-linecap="butt"/>
<text x="0" y="0" font-size="9" text-anchor="end" fill="#231f20" transform="translate(53.2 639.55) scale(0.9 1)" stroke="#231f20" stroke-width="0.1">2</text>
<line x1="60.2" y1="623.8" x2="56.6" y2="623.8" stroke="#2b2425" stroke-width="1.1" stroke-linecap="butt"/>
<text x="0" y="0" font-size="9" text-anchor="end" fill="#231f20" transform="translate(53.2 626.95) scale(0.9 1)" stroke="#231f20" stroke-width="0.1">3</text>
<line x1="60.2" y1="611.2" x2="56.6" y2="611.2" stroke="#2b2425" stroke-width="1.1" stroke-linecap="butt"/>
<text x="0" y="0" font-size="9" text-anchor="end" fill="#231f20" transform="translate(53.2 614.35) scale(0.9 1)" stroke="#231f20" stroke-width="0.1">4</text>
<line x1="60.2" y1="598.6" x2="56.6" y2="598.6" stroke="#2b2425" stroke-width="1.1" stroke-linecap="butt"/>
<text x="0" y="0" font-size="9" text-anchor="end" fill="#231f20" transform="translate(53.2 601.75) scale(0.9 1)" stroke="#231f20" stroke-width="0.1">5</text>
<line x1="60.2" y1="586" x2="56.6" y2="586" stroke="#2b2425" stroke-width="1.1" stroke-linecap="butt"/>
<text x="0" y="0" font-size="9" text-anchor="end" fill="#231f20" transform="translate(53.2 589.15) scale(0.9 1)" stroke="#231f20" stroke-width="0.1">6</text>
<line x1="60.2" y1="573.4" x2="56.6" y2="573.4" stroke="#2b2425" stroke-width="1.1" stroke-linecap="butt"/>
<text x="0" y="0" font-size="9" text-anchor="end" fill="#231f20" transform="translate(53.2 576.55) scale(0.9 1)" stroke="#231f20" stroke-width="0.1">7</text>
<line x1="60.2" y1="655.3" x2="58.3" y2="655.3" stroke="#2b2425" stroke-width="1.1" stroke-linecap="butt"/>
<line x1="60.2" y1="642.7" x2="58.3" y2="642.7" stroke="#2b2425" stroke-width="1.1" stroke-linecap="butt"/>
<line x1="60.2" y1="630.1" x2="58.3" y2="630.1" stroke="#2b2425" stroke-width="1.1" stroke-linecap="butt"/>
<line x1="60.2" y1="617.5" x2="58.3" y2="617.5" stroke="#2b2425" stroke-width="1.1" stroke-linecap="butt"/>
<line x1="60.2" y1="604.9" x2="58.3" y2="604.9" stroke="#2b2425" stroke-width="1.1" stroke-linecap="butt"/>
<line x1="60.2" y1="592.3" x2="58.3" y2="592.3" stroke="#2b2425" stroke-width="1.1" stroke-linecap="butt"/>
<line x1="60.2" y1="579.7" x2="58.3" y2="579.7" stroke="#2b2425" stroke-width="1.1" stroke-linecap="butt"/>
<line x1="60.2" y1="567.1" x2="58.3" y2="567.1" stroke="#2b2425" stroke-width="1.1" stroke-linecap="butt"/>
<line x1="56.4" y1="559.4" x2="63.8" y2="556.4" stroke="#2b2425" stroke-width="1.1" stroke-linecap="butt"/>
<line x1="56.4" y1="562.3" x2="63.8" y2="559.2" stroke="#2b2425" stroke-width="1.1" stroke-linecap="butt"/>
<line x1="60.2" y1="661.6" x2="288.6" y2="661.6" stroke="#2b2425" stroke-width="1.1" stroke-linecap="butt"/>
<line x1="75" y1="661.6" x2="75" y2="664.6" stroke="#2b2425" stroke-width="1.1" stroke-linecap="butt"/>
<line x1="105.51" y1="661.6" x2="105.51" y2="664.6" stroke="#2b2425" stroke-width="1.1" stroke-linecap="butt"/>
<line x1="136.02" y1="661.6" x2="136.02" y2="664.6" stroke="#2b2425" stroke-width="1.1" stroke-linecap="butt"/>
<line x1="166.53" y1="661.6" x2="166.53" y2="664.6" stroke="#2b2425" stroke-width="1.1" stroke-linecap="butt"/>
<line x1="197.04" y1="661.6" x2="197.04" y2="664.6" stroke="#2b2425" stroke-width="1.1" stroke-linecap="butt"/>
<line x1="227.55" y1="661.6" x2="227.55" y2="664.6" stroke="#2b2425" stroke-width="1.1" stroke-linecap="butt"/>
<line x1="258.06" y1="661.6" x2="258.06" y2="664.6" stroke="#2b2425" stroke-width="1.1" stroke-linecap="butt"/>
<line x1="288.57" y1="661.6" x2="288.57" y2="664.6" stroke="#2b2425" stroke-width="1.1" stroke-linecap="butt"/>
<line x1="90.25" y1="661.6" x2="90.25" y2="663.4" stroke="#2b2425" stroke-width="1.1" stroke-linecap="butt"/>
<line x1="120.77" y1="661.6" x2="120.77" y2="663.4" stroke="#2b2425" stroke-width="1.1" stroke-linecap="butt"/>
<line x1="151.28" y1="661.6" x2="151.28" y2="663.4" stroke="#2b2425" stroke-width="1.1" stroke-linecap="butt"/>
<line x1="181.79" y1="661.6" x2="181.79" y2="663.4" stroke="#2b2425" stroke-width="1.1" stroke-linecap="butt"/>
<line x1="212.3" y1="661.6" x2="212.3" y2="663.4" stroke="#2b2425" stroke-width="1.1" stroke-linecap="butt"/>
<line x1="242.81" y1="661.6" x2="242.81" y2="663.4" stroke="#2b2425" stroke-width="1.1" stroke-linecap="butt"/>
<line x1="273.31" y1="661.6" x2="273.31" y2="663.4" stroke="#2b2425" stroke-width="1.1" stroke-linecap="butt"/>
<text x="0" y="0" font-size="9" text-anchor="middle" fill="#231f20" transform="translate(75 673.8) scale(0.9 1)" stroke="#231f20" stroke-width="0.1">10</text>
<text x="0" y="0" font-size="9" text-anchor="middle" fill="#231f20" transform="translate(105.51 673.8) scale(0.9 1)" stroke="#231f20" stroke-width="0.1">20</text>
<text x="0" y="0" font-size="9" text-anchor="middle" fill="#231f20" transform="translate(136.02 673.8) scale(0.9 1)" stroke="#231f20" stroke-width="0.1">30</text>
<text x="0" y="0" font-size="9" text-anchor="middle" fill="#231f20" transform="translate(166.53 673.8) scale(0.9 1)" stroke="#231f20" stroke-width="0.1">40</text>
<text x="0" y="0" font-size="9" text-anchor="middle" fill="#231f20" transform="translate(197.04 673.8) scale(0.9 1)" stroke="#231f20" stroke-width="0.1">50</text>
<text x="0" y="0" font-size="9" text-anchor="middle" fill="#231f20" transform="translate(227.55 673.8) scale(0.9 1)" stroke="#231f20" stroke-width="0.1">60</text>
<text x="0" y="0" font-size="9" text-anchor="middle" fill="#231f20" transform="translate(258.06 673.8) scale(0.9 1)" stroke="#231f20" stroke-width="0.1">70</text>
<text x="0" y="0" font-size="9" text-anchor="middle" fill="#231f20" transform="translate(288.57 673.8) scale(0.9 1)" stroke="#231f20" stroke-width="0.1">80</text>
<text x="174" y="684.5" font-size="8.2" text-anchor="middle" fill="#231f20" stroke="#231f20" stroke-width="0.1">Time (h)</text>
<text transform="translate(31.6 577) rotate(-90)" font-size="8.5" text-anchor="middle" fill="#231f20" stroke="#231f20" stroke-width="0.1">Pseudoalterin production (U/ml)</text>
<polyline points="81.1,652.78 117.71,544.26 154.33,524.89 190.94,506.23 227.55,505.87 264.16,509.1" fill="none" stroke="#231f20" stroke-width="1.3" stroke-dasharray="3.2,1.7" stroke-linejoin="round"/>
<rect x="108" y="557.2" width="10" height="5.2" fill="#fff"/>
<line x1="109.6" y1="560.4" x2="117" y2="556.4" stroke="#231f20" stroke-width="1.1" stroke-linecap="butt"/>
<line x1="109.6" y1="563.6" x2="117" y2="559.6" stroke="#231f20" stroke-width="1.1" stroke-linecap="butt"/>
<line x1="154.33" y1="519.87" x2="154.33" y2="529.91" stroke="#231f20" stroke-width="1.0" stroke-linecap="butt"/>
<line x1="153.03" y1="519.87" x2="155.63" y2="519.87" stroke="#231f20" stroke-width="1.0" stroke-linecap="butt"/>
<line x1="153.03" y1="529.91" x2="155.63" y2="529.91" stroke="#231f20" stroke-width="1.0" stroke-linecap="butt"/>
<line x1="227.55" y1="504.08" x2="227.55" y2="507.67" stroke="#231f20" stroke-width="1.0" stroke-linecap="butt"/>
<line x1="226.25" y1="504.08" x2="228.85" y2="504.08" stroke="#231f20" stroke-width="1.0" stroke-linecap="butt"/>
<line x1="226.25" y1="507.67" x2="228.85" y2="507.67" stroke="#231f20" stroke-width="1.0" stroke-linecap="butt"/>
<line x1="264.16" y1="506.95" x2="264.16" y2="511.25" stroke="#231f20" stroke-width="1.0" stroke-linecap="butt"/>
<line x1="262.86" y1="506.95" x2="265.46" y2="506.95" stroke="#231f20" stroke-width="1.0" stroke-linecap="butt"/>
<line x1="262.86" y1="511.25" x2="265.46" y2="511.25" stroke="#231f20" stroke-width="1.0" stroke-linecap="butt"/>
<polyline points="81.1,652.78 117.71,652.78 154.33,652.78 190.94,651.52 227.55,647.11 264.16,641.44" fill="none" stroke="#8c3ca0" stroke-width="1.2" stroke-linejoin="round"/>
<polyline points="81.1,652.78 117.71,652.78 154.33,652.15 190.94,649 227.55,636.4 264.16,631.36" fill="none" stroke="#1e74be" stroke-width="1.2" stroke-linejoin="round"/>
<polyline points="81.1,654.04 117.71,653.41 154.33,643.96 190.94,591.04 227.55,584.74 264.16,588.52" fill="none" stroke="#f0981e" stroke-width="1.2" stroke-linejoin="round"/>
<polyline points="81.1,652.78 117.71,651.52 154.33,649 190.94,645.85 227.55,642.7 264.16,641.44" fill="none" stroke="#e41e26" stroke-width="1.2" stroke-dasharray="3,1.6" stroke-linejoin="round"/>
<line x1="154.33" y1="640.81" x2="154.33" y2="647.11" stroke="#f0981e" stroke-width="1.0" stroke-linecap="butt"/>
<line x1="153.03" y1="640.81" x2="155.63" y2="640.81" stroke="#f0981e" stroke-width="1.0" stroke-linecap="butt"/>
<line x1="153.03" y1="647.11" x2="155.63" y2="647.11" stroke="#f0981e" stroke-width="1.0" stroke-linecap="butt"/>
<line x1="190.94" y1="579.7" x2="190.94" y2="603.64" stroke="#f0981e" stroke-width="1.0" stroke-linecap="butt"/>
<line x1="189.64" y1="579.7" x2="192.24" y2="579.7" stroke="#f0981e" stroke-width="1.0" stroke-linecap="butt"/>
<line x1="189.64" y1="603.64" x2="192.24" y2="603.64" stroke="#f0981e" stroke-width="1.0" stroke-linecap="butt"/>
<line x1="227.55" y1="573.4" x2="227.55" y2="595.45" stroke="#f0981e" stroke-width="1.0" stroke-linecap="butt"/>
<line x1="226.25" y1="573.4" x2="228.85" y2="573.4" stroke="#f0981e" stroke-width="1.0" stroke-linecap="butt"/>
<line x1="226.25" y1="595.45" x2="228.85" y2="595.45" stroke="#f0981e" stroke-width="1.0" stroke-linecap="butt"/>
<line x1="264.16" y1="578.44" x2="264.16" y2="599.23" stroke="#f0981e" stroke-width="1.0" stroke-linecap="butt"/>
<line x1="262.86" y1="578.44" x2="265.46" y2="578.44" stroke="#f0981e" stroke-width="1.0" stroke-linecap="butt"/>
<line x1="262.86" y1="599.23" x2="265.46" y2="599.23" stroke="#f0981e" stroke-width="1.0" stroke-linecap="butt"/>
<rect x="115.01" y="541.56" width="5.4" height="5.4" fill="#231f20" stroke="#231f20" stroke-width="1.0"/>
<rect x="151.62" y="522.19" width="5.4" height="5.4" fill="#231f20" stroke="#231f20" stroke-width="1.0"/>
<rect x="188.24" y="503.53" width="5.4" height="5.4" fill="#231f20" stroke="#231f20" stroke-width="1.0"/>
<rect x="224.85" y="503.17" width="5.4" height="5.4" fill="#231f20" stroke="#231f20" stroke-width="1.0"/>
<rect x="261.46" y="506.4" width="5.4" height="5.4" fill="#231f20" stroke="#231f20" stroke-width="1.0"/>
<rect x="78.4" y="650.08" width="5.4" height="5.4" fill="#231f20" stroke="#231f20" stroke-width="1.0"/>
<rect x="78.57" y="650.25" width="5.06" height="5.06" fill="white" stroke="#e41e26" stroke-width="1.0"/>
<line x1="78.9" y1="652.78" x2="83.3" y2="652.78" stroke="#e41e26" stroke-width="0.7" stroke-linecap="butt"/>
<line x1="81.1" y1="650.58" x2="81.1" y2="654.98" stroke="#e41e26" stroke-width="0.7" stroke-linecap="butt"/>
<rect x="115.18" y="648.99" width="5.06" height="5.06" fill="white" stroke="#e41e26" stroke-width="1.0"/>
<line x1="115.51" y1="651.52" x2="119.91" y2="651.52" stroke="#e41e26" stroke-width="0.7" stroke-linecap="butt"/>
<line x1="117.71" y1="649.32" x2="117.71" y2="653.72" stroke="#e41e26" stroke-width="0.7" stroke-linecap="butt"/>
<rect x="151.8" y="646.47" width="5.06" height="5.06" fill="white" stroke="#e41e26" stroke-width="1.0"/>
<line x1="152.13" y1="649" x2="156.53" y2="649" stroke="#e41e26" stroke-width="0.7" stroke-linecap="butt"/>
<line x1="154.33" y1="646.8" x2="154.33" y2="651.2" stroke="#e41e26" stroke-width="0.7" stroke-linecap="butt"/>
<rect x="188.41" y="643.32" width="5.06" height="5.06" fill="white" stroke="#e41e26" stroke-width="1.0"/>
<line x1="188.74" y1="645.85" x2="193.14" y2="645.85" stroke="#e41e26" stroke-width="0.7" stroke-linecap="butt"/>
<line x1="190.94" y1="643.65" x2="190.94" y2="648.05" stroke="#e41e26" stroke-width="0.7" stroke-linecap="butt"/>
<rect x="225.02" y="640.17" width="5.06" height="5.06" fill="white" stroke="#e41e26" stroke-width="1.0"/>
<line x1="225.35" y1="642.7" x2="229.75" y2="642.7" stroke="#e41e26" stroke-width="0.7" stroke-linecap="butt"/>
<line x1="227.55" y1="640.5" x2="227.55" y2="644.9" stroke="#e41e26" stroke-width="0.7" stroke-linecap="butt"/>
<rect x="261.63" y="638.91" width="5.06" height="5.06" fill="white" stroke="#e41e26" stroke-width="1.0"/>
<line x1="261.96" y1="641.44" x2="266.36" y2="641.44" stroke="#e41e26" stroke-width="0.7" stroke-linecap="butt"/>
<line x1="264.16" y1="639.24" x2="264.16" y2="643.64" stroke="#e41e26" stroke-width="0.7" stroke-linecap="butt"/>
<polygon points="81.1,656.22 84.39,650.2 77.81,650.2" fill="white" stroke="#1e74be" stroke-width="1.0" stroke-linejoin="miter"/>
<polygon points="117.71,656.22 121,650.2 114.42,650.2" fill="white" stroke="#1e74be" stroke-width="1.0" stroke-linejoin="miter"/>
<polygon points="154.33,655.59 157.62,649.57 151.04,649.57" fill="white" stroke="#1e74be" stroke-width="1.0" stroke-linejoin="miter"/>
<polygon points="190.94,652.44 194.23,646.42 187.65,646.42" fill="white" stroke="#1e74be" stroke-width="1.0" stroke-linejoin="miter"/>
<polygon points="227.55,639.84 230.84,633.82 224.26,633.82" fill="white" stroke="#1e74be" stroke-width="1.0" stroke-linejoin="miter"/>
<polygon points="264.16,634.8 267.45,628.78 260.87,628.78" fill="white" stroke="#1e74be" stroke-width="1.0" stroke-linejoin="miter"/>
<polygon points="81.1,650.2 84.77,656.92 77.43,656.92" fill="#f0981e" stroke="#f0981e" stroke-width="1.0" stroke-linejoin="miter"/>
<circle cx="81.1" cy="652.78" r="2.88" fill="#a877b8" stroke="#8c3ca0" stroke-width="1.1"/>
<line x1="78.6" y1="652.78" x2="83.6" y2="652.78" stroke="#8c3ca0" stroke-width="0.7" stroke-linecap="butt"/>
<line x1="81.1" y1="650.28" x2="81.1" y2="655.28" stroke="#8c3ca0" stroke-width="0.7" stroke-linecap="butt"/>
<circle cx="117.71" cy="652.78" r="2.88" fill="#a877b8" stroke="#8c3ca0" stroke-width="1.1"/>
<line x1="115.21" y1="652.78" x2="120.21" y2="652.78" stroke="#8c3ca0" stroke-width="0.7" stroke-linecap="butt"/>
<line x1="117.71" y1="650.28" x2="117.71" y2="655.28" stroke="#8c3ca0" stroke-width="0.7" stroke-linecap="butt"/>
<circle cx="154.33" cy="652.78" r="2.88" fill="#a877b8" stroke="#8c3ca0" stroke-width="1.1"/>
<line x1="151.83" y1="652.78" x2="156.83" y2="652.78" stroke="#8c3ca0" stroke-width="0.7" stroke-linecap="butt"/>
<line x1="154.33" y1="650.28" x2="154.33" y2="655.28" stroke="#8c3ca0" stroke-width="0.7" stroke-linecap="butt"/>
<circle cx="190.94" cy="651.52" r="2.88" fill="white" stroke="#8c3ca0" stroke-width="1.1"/>
<line x1="188.44" y1="651.52" x2="193.44" y2="651.52" stroke="#8c3ca0" stroke-width="0.7" stroke-linecap="butt"/>
<line x1="190.94" y1="649.02" x2="190.94" y2="654.02" stroke="#8c3ca0" stroke-width="0.7" stroke-linecap="butt"/>
<circle cx="227.55" cy="647.11" r="2.88" fill="white" stroke="#8c3ca0" stroke-width="1.1"/>
<line x1="225.05" y1="647.11" x2="230.05" y2="647.11" stroke="#8c3ca0" stroke-width="0.7" stroke-linecap="butt"/>
<line x1="227.55" y1="644.61" x2="227.55" y2="649.61" stroke="#8c3ca0" stroke-width="0.7" stroke-linecap="butt"/>
<circle cx="264.16" cy="641.44" r="2.88" fill="white" stroke="#8c3ca0" stroke-width="1.1"/>
<line x1="261.66" y1="641.44" x2="266.66" y2="641.44" stroke="#8c3ca0" stroke-width="0.7" stroke-linecap="butt"/>
<line x1="264.16" y1="638.94" x2="264.16" y2="643.94" stroke="#8c3ca0" stroke-width="0.7" stroke-linecap="butt"/>
<polygon points="117.71,649.57 121.38,656.29 114.05,656.29" fill="#f0981e" stroke="#f0981e" stroke-width="1.0" stroke-linejoin="miter"/>
<polygon points="154.33,640.12 157.99,646.84 150.66,646.84" fill="#f0981e" stroke="#f0981e" stroke-width="1.0" stroke-linejoin="miter"/>
<polygon points="190.94,587.2 194.61,593.92 187.27,593.92" fill="#f0981e" stroke="#f0981e" stroke-width="1.0" stroke-linejoin="miter"/>
<polygon points="227.55,580.9 231.22,587.62 223.88,587.62" fill="#f0981e" stroke="#f0981e" stroke-width="1.0" stroke-linejoin="miter"/>
<polygon points="264.16,584.68 267.83,591.4 260.49,591.4" fill="#f0981e" stroke="#f0981e" stroke-width="1.0" stroke-linejoin="miter"/>
<line x1="62" y1="493.4" x2="81.5" y2="493.4" stroke="#231f20" stroke-width="1" stroke-dasharray="2.2,1.2" stroke-linecap="butt"/>
<rect x="68.99" y="490.64" width="5.52" height="5.52" fill="#231f20" stroke="#231f20" stroke-width="1.0"/>
<line x1="62" y1="501.4" x2="81.5" y2="501.4" stroke="#e41e26" stroke-width="1.2" stroke-dasharray="2.2,1.2" stroke-linecap="butt"/>
<rect x="69.22" y="498.87" width="5.06" height="5.06" fill="white" stroke="#e41e26" stroke-width="1.0"/>
<line x1="62" y1="509.8" x2="81.5" y2="509.8" stroke="#1e74be" stroke-width="1.2" stroke-linecap="butt"/>
<polygon points="71.75,512.97 74.79,507.42 68.71,507.42" fill="white" stroke="#1e74be" stroke-width="1.0" stroke-linejoin="miter"/>
<line x1="62" y1="518" x2="81.5" y2="518" stroke="#f0981e" stroke-width="1.2" stroke-linecap="butt"/>
<polygon points="71.75,514.56 75.04,520.58 68.46,520.58" fill="#f0981e" stroke="#f0981e" stroke-width="1.0" stroke-linejoin="miter"/>
<line x1="62" y1="526.6" x2="81.5" y2="526.6" stroke="#8c3ca0" stroke-width="1.2" stroke-linecap="butt"/>
<circle cx="71.75" cy="526.6" r="2.76" fill="white" stroke="#8c3ca0" stroke-width="1.0"/>
<text x="86.4" y="495.8" font-size="6.9" text-anchor="start" fill="#231f20" stroke="#231f20" stroke-width="0.1">CF6-2</text>
<text x="86.4" y="503.8" font-size="6.9" fill="#e41e26" stroke="#e41e26" stroke-width="0.1">&#916;<tspan font-style="italic">psn</tspan></text>
<text x="86.4" y="512.2" font-size="6.9" fill="#231f20" stroke="#231f20" stroke-width="0.1">&#916;<tspan font-style="italic">gspE</tspan></text>
<text x="86.4" y="520.4" font-size="6.9" fill="#231f20" stroke="#231f20" stroke-width="0.1">&#916;<tspan font-style="italic">gspE</tspan>/<tspan font-style="italic">pEVgspE</tspan></text>
<text x="86.4" y="529" font-size="6.9" fill="#231f20" stroke="#231f20" stroke-width="0.1">&#916;<tspan font-style="italic">gspE</tspan>/<tspan font-style="italic">pEV</tspan></text>
<rect x="64.7" y="729.7" width="191.8" height="27.1" fill="#a7a7a7"/>
<g filter="url(#bl)">
<rect x="73" y="738.6" width="16.5" height="9.2" rx="4" fill="#1c1c1c"/>
<rect x="88" y="740.6" width="4" height="5.6" fill="#333"/>
<rect x="90.8" y="739.2" width="33.4" height="8.2" rx="4" fill="#1e1e1e"/>
<path d="M189.5,742 C189.5,739 193,738.3 197,738.5 C203,738.5 208,739.5 213,740 C215.5,740.5 216,743.5 213,744.8 C207,746 198,746.2 190.5,745.8 C189.2,745 189.5,743.5 189.5,742 Z" fill="url(#bg1)"/>
<ellipse cx="161.5" cy="743" rx="2.2" ry="1.4" fill="#777"/>
<ellipse cx="177" cy="742.5" rx="3.2" ry="1.7" fill="#8a8a8a"/>
<ellipse cx="237" cy="744" rx="1" ry="0.8" fill="#555"/>
</g>
<text transform="translate(83.2 728.1) rotate(-45)" font-size="8.3" fill="#231f20" stroke="#231f20" stroke-width="0.1">Pseudoalterin</text>
<text transform="translate(111.5 728.1) rotate(-45)" font-size="8.3" fill="#231f20" stroke="#231f20" stroke-width="0.1">CF6-2</text>
<text transform="translate(141.6 726.8) rotate(-45)" font-size="8.3" fill="#231f20" stroke="#231f20" stroke-width="0.1">&#916;<tspan font-style="italic">psn</tspan></text>
<text transform="translate(172.1 726.8) rotate(-45)" font-size="8.3" fill="#231f20" stroke="#231f20" stroke-width="0.1">&#916;<tspan font-style="italic">gspE</tspan></text>
<text transform="translate(206.6 715.5) rotate(-45)" font-size="8.3" fill="#231f20" stroke="#231f20" stroke-width="0.1">&#916;<tspan font-style="italic">gspE</tspan>/</text>
<text transform="translate(210.1 725.7) rotate(-45)" font-size="8.3" fill="#231f20" stroke="#231f20" stroke-width="0.1"><tspan font-style="italic">pEVgspE</tspan></text>
<text transform="translate(237.6 726.2) rotate(-45)" font-size="8.3" fill="#231f20" stroke="#231f20" stroke-width="0.1">&#916;<tspan font-style="italic">gspE</tspan>/<tspan font-style="italic">pEV</tspan></text>
<text x="348.2" y="485.2" font-size="14" text-anchor="start" fill="#000" font-weight="bold" stroke="#000" stroke-width="0.1">h</text>
<rect x="363.6" y="484.6" width="289.8" height="276.6" fill="none" stroke="#4a4546" stroke-width="1.2" stroke-dasharray="3.4,1.9"/>
<line x1="407.4" y1="511.8" x2="407.4" y2="663" stroke="#2b2425" stroke-width="1.1" stroke-linecap="butt"/>
<line x1="407.4" y1="652.5" x2="403.8" y2="652.5" stroke="#2b2425" stroke-width="1.1" stroke-linecap="butt"/>
<line x1="407.4" y1="632.4" x2="403.8" y2="632.4" stroke="#2b2425" stroke-width="1.1" stroke-linecap="butt"/>
<line x1="407.4" y1="612.3" x2="403.8" y2="612.3" stroke="#2b2425" stroke-width="1.1" stroke-linecap="butt"/>
<line x1="407.4" y1="592.2" x2="403.8" y2="592.2" stroke="#2b2425" stroke-width="1.1" stroke-linecap="butt"/>
<line x1="407.4" y1="572.1" x2="403.8" y2="572.1" stroke="#2b2425" stroke-width="1.1" stroke-linecap="butt"/>
<line x1="407.4" y1="552" x2="403.8" y2="552" stroke="#2b2425" stroke-width="1.1" stroke-linecap="butt"/>
<line x1="407.4" y1="531.9" x2="403.8" y2="531.9" stroke="#2b2425" stroke-width="1.1" stroke-linecap="butt"/>
<line x1="407.4" y1="511.8" x2="403.8" y2="511.8" stroke="#2b2425" stroke-width="1.1" stroke-linecap="butt"/>
<line x1="407.4" y1="642.45" x2="405.5" y2="642.45" stroke="#2b2425" stroke-width="1.1" stroke-linecap="butt"/>
<line x1="407.4" y1="622.35" x2="405.5" y2="622.35" stroke="#2b2425" stroke-width="1.1" stroke-linecap="butt"/>
<line x1="407.4" y1="602.25" x2="405.5" y2="602.25" stroke="#2b2425" stroke-width="1.1" stroke-linecap="butt"/>
<line x1="407.4" y1="582.15" x2="405.5" y2="582.15" stroke="#2b2425" stroke-width="1.1" stroke-linecap="butt"/>
<line x1="407.4" y1="562.05" x2="405.5" y2="562.05" stroke="#2b2425" stroke-width="1.1" stroke-linecap="butt"/>
<line x1="407.4" y1="541.95" x2="405.5" y2="541.95" stroke="#2b2425" stroke-width="1.1" stroke-linecap="butt"/>
<line x1="407.4" y1="521.85" x2="405.5" y2="521.85" stroke="#2b2425" stroke-width="1.1" stroke-linecap="butt"/>
<line x1="407.4" y1="662.55" x2="405.5" y2="662.55" stroke="#2b2425" stroke-width="1.1" stroke-linecap="butt"/>
<text x="0" y="0" font-size="9" text-anchor="end" fill="#231f20" transform="translate(400.4 655.65) scale(0.9 1)" stroke="#231f20" stroke-width="0.1">0.10</text>
<text x="0" y="0" font-size="9" text-anchor="end" fill="#231f20" transform="translate(400.4 635.55) scale(0.9 1)" stroke="#231f20" stroke-width="0.1">0.15</text>
<text x="0" y="0" font-size="9" text-anchor="end" fill="#231f20" transform="translate(400.4 615.45) scale(0.9 1)" stroke="#231f20" stroke-width="0.1">0.20</text>
<text x="0" y="0" font-size="9" text-anchor="end" fill="#231f20" transform="translate(400.4 595.35) scale(0.9 1)" stroke="#231f20" stroke-width="0.1">0.25</text>
<text x="0" y="0" font-size="9" text-anchor="end" fill="#231f20" transform="translate(400.4 575.25) scale(0.9 1)" stroke="#231f20" stroke-width="0.1">0.30</text>
<text x="0" y="0" font-size="9" text-anchor="end" fill="#231f20" transform="translate(400.4 555.15) scale(0.9 1)" stroke="#231f20" stroke-width="0.1">0.35</text>
<text x="0" y="0" font-size="9" text-anchor="end" fill="#231f20" transform="translate(400.4 535.05) scale(0.9 1)" stroke="#231f20" stroke-width="0.1">0.40</text>
<text x="0" y="0" font-size="9" text-anchor="end" fill="#231f20" transform="translate(400.4 514.95) scale(0.9 1)" stroke="#231f20" stroke-width="0.1">0.45</text>
<line x1="611.6" y1="512.4" x2="611.6" y2="663" stroke="#e41e26" stroke-width="1.1" stroke-linecap="butt"/>
<line x1="611.6" y1="662.4" x2="608" y2="662.4" stroke="#e41e26" stroke-width="1.1" stroke-linecap="butt"/>
<line x1="611.6" y1="647.4" x2="608" y2="647.4" stroke="#e41e26" stroke-width="1.1" stroke-linecap="butt"/>
<line x1="611.6" y1="632.4" x2="608" y2="632.4" stroke="#e41e26" stroke-width="1.1" stroke-linecap="butt"/>
<line x1="611.6" y1="617.4" x2="608" y2="617.4" stroke="#e41e26" stroke-width="1.1" stroke-linecap="butt"/>
<line x1="611.6" y1="602.4" x2="608" y2="602.4" stroke="#e41e26" stroke-width="1.1" stroke-linecap="butt"/>
<line x1="611.6" y1="587.4" x2="608" y2="587.4" stroke="#e41e26" stroke-width="1.1" stroke-linecap="butt"/>
<line x1="611.6" y1="572.4" x2="608" y2="572.4" stroke="#e41e26" stroke-width="1.1" stroke-linecap="butt"/>
<line x1="611.6" y1="557.4" x2="608" y2="557.4" stroke="#e41e26" stroke-width="1.1" stroke-linecap="butt"/>
<line x1="611.6" y1="542.4" x2="608" y2="542.4" stroke="#e41e26" stroke-width="1.1" stroke-linecap="butt"/>
<line x1="611.6" y1="527.4" x2="608" y2="527.4" stroke="#e41e26" stroke-width="1.1" stroke-linecap="butt"/>
<line x1="611.6" y1="512.4" x2="608" y2="512.4" stroke="#e41e26" stroke-width="1.1" stroke-linecap="butt"/>
<line x1="611.6" y1="654.9" x2="609.7" y2="654.9" stroke="#e41e26" stroke-width="1.1" stroke-linecap="butt"/>
<line x1="611.6" y1="639.9" x2="609.7" y2="639.9" stroke="#e41e26" stroke-width="1.1" stroke-linecap="butt"/>
<line x1="611.6" y1="624.9" x2="609.7" y2="624.9" stroke="#e41e26" stroke-width="1.1" stroke-linecap="butt"/>
<line x1="611.6" y1="609.9" x2="609.7" y2="609.9" stroke="#e41e26" stroke-width="1.1" stroke-linecap="butt"/>
<line x1="611.6" y1="594.9" x2="609.7" y2="594.9" stroke="#e41e26" stroke-width="1.1" stroke-linecap="butt"/>
<line x1="611.6" y1="579.9" x2="609.7" y2="579.9" stroke="#e41e26" stroke-width="1.1" stroke-linecap="butt"/>
<line x1="611.6" y1="564.9" x2="609.7" y2="564.9" stroke="#e41e26" stroke-width="1.1" stroke-linecap="butt"/>
<line x1="611.6" y1="549.9" x2="609.7" y2="549.9" stroke="#e41e26" stroke-width="1.1" stroke-linecap="butt"/>
<line x1="611.6" y1="534.9" x2="609.7" y2="534.9" stroke="#e41e26" stroke-width="1.1" stroke-linecap="butt"/>
<line x1="611.6" y1="519.9" x2="609.7" y2="519.9" stroke="#e41e26" stroke-width="1.1" stroke-linecap="butt"/>
<text x="0" y="0" font-size="9" text-anchor="start" fill="#e41e26" transform="translate(615.8 665.55) scale(0.9 1)" stroke="#e41e26" stroke-width="0.1">4.25</text>
<text x="0" y="0" font-size="9" text-anchor="start" fill="#e41e26" transform="translate(615.8 650.55) scale(0.9 1)" stroke="#e41e26" stroke-width="0.1">4.50</text>
<text x="0" y="0" font-size="9" text-anchor="start" fill="#e41e26" transform="translate(615.8 635.55) scale(0.9 1)" stroke="#e41e26" stroke-width="0.1">4.75</text>
<text x="0" y="0" font-size="9" text-anchor="start" fill="#e41e26" transform="translate(615.8 620.55) scale(0.9 1)" stroke="#e41e26" stroke-width="0.1">5.00</text>
<text x="0" y="0" font-size="9" text-anchor="start" fill="#e41e26" transform="translate(615.8 605.55) scale(0.9 1)" stroke="#e41e26" stroke-width="0.1">5.25</text>
<text x="0" y="0" font-size="9" text-anchor="start" fill="#e41e26" transform="translate(615.8 590.55) scale(0.9 1)" stroke="#e41e26" stroke-width="0.1">5.50</text>
<text x="0" y="0" font-size="9" text-anchor="start" fill="#e41e26" transform="translate(615.8 575.55) scale(0.9 1)" stroke="#e41e26" stroke-width="0.1">5.75</text>
<text x="0" y="0" font-size="9" text-anchor="start" fill="#e41e26" transform="translate(615.8 560.55) scale(0.9 1)" stroke="#e41e26" stroke-width="0.1">6.00</text>
<text x="0" y="0" font-size="9" text-anchor="start" fill="#e41e26" transform="translate(615.8 545.55) scale(0.9 1)" stroke="#e41e26" stroke-width="0.1">6.25</text>
<text x="0" y="0" font-size="9" text-anchor="start" fill="#e41e26" transform="translate(615.8 530.55) scale(0.9 1)" stroke="#e41e26" stroke-width="0.1">6.50</text>
<text x="0" y="0" font-size="9" text-anchor="start" fill="#e41e26" transform="translate(615.8 515.55) scale(0.9 1)" stroke="#e41e26" stroke-width="0.1">6.75</text>
<line x1="407.4" y1="663" x2="611.6" y2="663" stroke="#2b2425" stroke-width="1.1" stroke-linecap="butt"/>
<line x1="424.1" y1="663" x2="424.1" y2="666" stroke="#2b2425" stroke-width="1.1" stroke-linecap="butt"/>
<line x1="457.82" y1="663" x2="457.82" y2="666" stroke="#2b2425" stroke-width="1.1" stroke-linecap="butt"/>
<line x1="491.54" y1="663" x2="491.54" y2="666" stroke="#2b2425" stroke-width="1.1" stroke-linecap="butt"/>
<line x1="525.26" y1="663" x2="525.26" y2="666" stroke="#2b2425" stroke-width="1.1" stroke-linecap="butt"/>
<line x1="558.98" y1="663" x2="558.98" y2="666" stroke="#2b2425" stroke-width="1.1" stroke-linecap="butt"/>
<line x1="592.7" y1="663" x2="592.7" y2="666" stroke="#2b2425" stroke-width="1.1" stroke-linecap="butt"/>
<line x1="440.96" y1="663" x2="440.96" y2="664.8" stroke="#2b2425" stroke-width="1.1" stroke-linecap="butt"/>
<line x1="474.68" y1="663" x2="474.68" y2="664.8" stroke="#2b2425" stroke-width="1.1" stroke-linecap="butt"/>
<line x1="508.4" y1="663" x2="508.4" y2="664.8" stroke="#2b2425" stroke-width="1.1" stroke-linecap="butt"/>
<line x1="542.12" y1="663" x2="542.12" y2="664.8" stroke="#2b2425" stroke-width="1.1" stroke-linecap="butt"/>
<line x1="575.84" y1="663" x2="575.84" y2="664.8" stroke="#2b2425" stroke-width="1.1" stroke-linecap="butt"/>
<line x1="609.56" y1="663" x2="609.56" y2="664.8" stroke="#2b2425" stroke-width="1.1" stroke-linecap="butt"/>
<text x="0" y="0" font-size="9" text-anchor="middle" fill="#231f20" transform="translate(424.1 674.3) scale(0.9 1)" stroke="#231f20" stroke-width="0.1">0</text>
<text x="0" y="0" font-size="9" text-anchor="middle" fill="#231f20" transform="translate(457.82 674.3) scale(0.9 1)" stroke="#231f20" stroke-width="0.1">20</text>
<text x="0" y="0" font-size="9" text-anchor="middle" fill="#231f20" transform="translate(491.54 674.3) scale(0.9 1)" stroke="#231f20" stroke-width="0.1">40</text>
<text x="0" y="0" font-size="9" text-anchor="middle" fill="#231f20" transform="translate(525.26 674.3) scale(0.9 1)" stroke="#231f20" stroke-width="0.1">60</text>
<text x="0" y="0" font-size="9" text-anchor="middle" fill="#231f20" transform="translate(558.98 674.3) scale(0.9 1)" stroke="#231f20" stroke-width="0.1">80</text>
<text x="0" y="0" font-size="9" text-anchor="middle" fill="#231f20" transform="translate(592.7 674.3) scale(0.9 1)" stroke="#231f20" stroke-width="0.1">100</text>
<text x="515.5" y="685" font-size="8.2" text-anchor="middle" fill="#231f20" stroke="#231f20" stroke-width="0.1">Time (h)</text>
<text transform="translate(375 587) rotate(-90)" font-size="8.2" text-anchor="middle" fill="#231f20" stroke="#231f20" stroke-width="0.1">OD<tspan font-size="5.5" dy="2">600</tspan><tspan dy="-2"> of CF6-2/&#916;</tspan><tspan font-style="italic">gspE</tspan></text>
<text transform="translate(640.8 581.8) rotate(90)" font-size="8.4" text-anchor="middle" fill="#e41e26" stroke="#e41e26" stroke-width="0.1">OD<tspan font-size="5.5" dy="2">600</tspan><tspan dy="-2"> of MCCC0423</tspan></text>
<polyline points="424.1,516.6 464.56,587.4 505.03,604.2 545.49,628.8 585.96,633" fill="none" stroke="#e41e26" stroke-width="1.3" stroke-dasharray="3.2,1.6" stroke-linejoin="round"/>
<polyline points="424.1,516.6 464.56,528.6 505.03,529.2 545.49,539.4 585.96,540.6" fill="none" stroke="#e41e26" stroke-width="1.4" stroke-linejoin="round"/>
<polyline points="424.1,652.5 464.56,609.89 505.03,538.33 545.49,542.35 585.96,543.56" fill="none" stroke="#231f20" stroke-width="1.25" stroke-dasharray="3.2,1.6" stroke-linejoin="round"/>
<polyline points="424.1,652.5 464.56,639.23 505.03,643.25 545.49,637.22 585.96,641.24" fill="none" stroke="#231f20" stroke-width="1.2" stroke-linejoin="round"/>
<line x1="505.03" y1="527.88" x2="505.03" y2="547.18" stroke="#231f20" stroke-width="1.0" stroke-linecap="butt"/>
<line x1="503.73" y1="527.88" x2="506.33" y2="527.88" stroke="#231f20" stroke-width="1.0" stroke-linecap="butt"/>
<line x1="503.73" y1="547.18" x2="506.33" y2="547.18" stroke="#231f20" stroke-width="1.0" stroke-linecap="butt"/>
<line x1="585.96" y1="536.72" x2="585.96" y2="549.99" stroke="#231f20" stroke-width="1.0" stroke-linecap="butt"/>
<line x1="584.66" y1="536.72" x2="587.26" y2="536.72" stroke="#231f20" stroke-width="1.0" stroke-linecap="butt"/>
<line x1="584.66" y1="549.99" x2="587.26" y2="549.99" stroke="#231f20" stroke-width="1.0" stroke-linecap="butt"/>
<line x1="585.96" y1="534.6" x2="585.96" y2="548.4" stroke="#e41e26" stroke-width="1.0" stroke-linecap="butt"/>
<line x1="584.66" y1="534.6" x2="587.26" y2="534.6" stroke="#e41e26" stroke-width="1.0" stroke-linecap="butt"/>
<line x1="584.66" y1="548.4" x2="587.26" y2="548.4" stroke="#e41e26" stroke-width="1.0" stroke-linecap="butt"/>
<line x1="464.56" y1="522.6" x2="464.56" y2="533.4" stroke="#e41e26" stroke-width="1.0" stroke-linecap="butt"/>
<line x1="463.26" y1="522.6" x2="465.86" y2="522.6" stroke="#e41e26" stroke-width="1.0" stroke-linecap="butt"/>
<line x1="463.26" y1="533.4" x2="465.86" y2="533.4" stroke="#e41e26" stroke-width="1.0" stroke-linecap="butt"/>
<line x1="585.96" y1="624.6" x2="585.96" y2="640.2" stroke="#e41e26" stroke-width="1.0" stroke-linecap="butt"/>
<line x1="584.66" y1="624.6" x2="587.26" y2="624.6" stroke="#e41e26" stroke-width="1.0" stroke-linecap="butt"/>
<line x1="584.66" y1="640.2" x2="587.26" y2="640.2" stroke="#e41e26" stroke-width="1.0" stroke-linecap="butt"/>
<circle cx="424.1" cy="652.5" r="2.88" fill="white" stroke="#231f20" stroke-width="1.0"/>
<circle cx="464.56" cy="609.89" r="2.88" fill="white" stroke="#231f20" stroke-width="1.0"/>
<circle cx="505.03" cy="538.33" r="2.88" fill="white" stroke="#231f20" stroke-width="1.0"/>
<circle cx="545.49" cy="542.35" r="2.88" fill="white" stroke="#231f20" stroke-width="1.0"/>
<circle cx="585.96" cy="543.56" r="2.88" fill="white" stroke="#231f20" stroke-width="1.0"/>
<circle cx="424.1" cy="652.5" r="3.22" fill="#231f20" stroke="#231f20" stroke-width="1.0"/>
<circle cx="464.56" cy="639.23" r="3.22" fill="#231f20" stroke="#231f20" stroke-width="1.0"/>
<circle cx="505.03" cy="643.25" r="3.22" fill="#231f20" stroke="#231f20" stroke-width="1.0"/>
<circle cx="545.49" cy="637.22" r="3.22" fill="#231f20" stroke="#231f20" stroke-width="1.0"/>
<circle cx="585.96" cy="641.24" r="3.22" fill="#231f20" stroke="#231f20" stroke-width="1.0"/>
<polygon points="424.1,513.16 427.39,519.18 420.81,519.18" fill="white" stroke="#e41e26" stroke-width="1.0" stroke-linejoin="miter"/>
<polygon points="464.56,583.96 467.85,589.98 461.28,589.98" fill="white" stroke="#e41e26" stroke-width="1.0" stroke-linejoin="miter"/>
<polygon points="505.03,600.76 508.32,606.78 501.74,606.78" fill="white" stroke="#e41e26" stroke-width="1.0" stroke-linejoin="miter"/>
<polygon points="545.49,625.36 548.78,631.38 542.2,631.38" fill="white" stroke="#e41e26" stroke-width="1.0" stroke-linejoin="miter"/>
<polygon points="585.96,629.56 589.25,635.58 582.67,635.58" fill="white" stroke="#e41e26" stroke-width="1.0" stroke-linejoin="miter"/>
<polygon points="424.1,512.9 427.64,519.38 420.56,519.38" fill="#e41e26" stroke="#e41e26" stroke-width="1.0" stroke-linejoin="miter"/>
<polygon points="464.56,524.9 468.11,531.38 461.02,531.38" fill="#e41e26" stroke="#e41e26" stroke-width="1.0" stroke-linejoin="miter"/>
<polygon points="505.03,525.5 508.57,531.98 501.49,531.98" fill="#e41e26" stroke="#e41e26" stroke-width="1.0" stroke-linejoin="miter"/>
<polygon points="545.49,535.7 549.03,542.18 541.95,542.18" fill="#e41e26" stroke="#e41e26" stroke-width="1.0" stroke-linejoin="miter"/>
<polygon points="585.96,536.9 589.5,543.38 582.41,543.38" fill="#e41e26" stroke="#e41e26" stroke-width="1.0" stroke-linejoin="miter"/>
<line x1="501" y1="495" x2="521" y2="495" stroke="#231f20" stroke-width="1" stroke-dasharray="2.2,1.2" stroke-linecap="butt"/>
<circle cx="511" cy="495" r="2.76" fill="white" stroke="#231f20" stroke-width="1.0"/>
<line x1="501" y1="503" x2="521" y2="503" stroke="#231f20" stroke-width="1" stroke-linecap="butt"/>
<circle cx="511" cy="503" r="3.1" fill="#231f20" stroke="#231f20" stroke-width="1.0"/>
<line x1="501" y1="512.4" x2="521" y2="512.4" stroke="#e41e26" stroke-width="1.1" stroke-dasharray="2.2,1.2" stroke-linecap="butt"/>
<polygon points="511,509.09 514.16,514.88 507.84,514.88" fill="white" stroke="#e41e26" stroke-width="1.0" stroke-linejoin="miter"/>
<line x1="501" y1="521" x2="521" y2="521" stroke="#e41e26" stroke-width="1.2" stroke-linecap="butt"/>
<polygon points="511,517.43 514.42,523.68 507.58,523.68" fill="#e41e26" stroke="#e41e26" stroke-width="1.0" stroke-linejoin="miter"/>
<text x="524.4" y="497.4" font-size="6.9" text-anchor="start" fill="#231f20" stroke="#231f20" stroke-width="0.1">CF6-2 (&amp; MCCC0423)</text>
<text x="524.4" y="505.4" font-size="6.9" fill="#231f20" stroke="#231f20" stroke-width="0.1">&#916;<tspan font-style="italic">gspE</tspan> (&amp; MCCC0423)</text>
<text x="524.4" y="514.8" font-size="6.9" text-anchor="start" fill="#231f20" stroke="#231f20" stroke-width="0.1">MCCC0423 (&amp; CF6-2)</text>
<text x="524.4" y="523.4" font-size="6.9" fill="#231f20" stroke="#231f20" stroke-width="0.1">MCCC0423 (&#916;<tspan font-style="italic">gspE</tspan>)</text>
<rect x="400.8" y="729.9" width="193.2" height="26.9" fill="#b8b4b0"/>
<g filter="url(#bl)">
<path d="M408.5,745 C409,740 413,739 421,738.8 C430,738.8 434,740.5 434.5,743.5 C434.5,747 430,748 421,748 C412,748 408,747.5 408.5,745 Z" fill="#0e0e0e"/>
<path d="M433,742 C440,741.5 446,741.3 452,741.5 C460,741 468,740.8 471.5,742 C472.5,745 471.5,746.6 468,746.8 C458,747 445,747 433,746.8 Z" fill="#151515"/>
<ellipse cx="481" cy="743.5" rx="4" ry="1.8" fill="#6e6b68"/>
<ellipse cx="491" cy="744" rx="4" ry="1.2" fill="#9a9794"/>
</g>
<text transform="translate(424.2 727.3) rotate(-45)" font-size="8.3" fill="#231f20" stroke="#231f20" stroke-width="0.1">Pseudoalterin</text>
<text transform="translate(463.5 716.2) rotate(-45)" font-size="8.3" fill="#231f20" stroke="#231f20" stroke-width="0.1">CF6-2 &amp;</text>
<text transform="translate(467.4 728.4) rotate(-45)" font-size="8.3" fill="#231f20" stroke="#231f20" stroke-width="0.1">MCCC0423</text>
<text transform="translate(497 716.3) rotate(-45)" font-size="8.3" fill="#231f20" stroke="#231f20" stroke-width="0.1">&#916;<tspan font-style="italic">gspE</tspan> &amp;</text>
<text transform="translate(500.6 728.4) rotate(-45)" font-size="8.3" fill="#231f20" stroke="#231f20" stroke-width="0.1">MCCC0423</text>
<text transform="translate(524.9 727.6) rotate(-45)" font-size="8.3" fill="#231f20" stroke="#231f20" stroke-width="0.1">CF6-2</text>
<text transform="translate(548.6 727.6) rotate(-45)" font-size="8.3" fill="#231f20" stroke="#231f20" stroke-width="0.1">&#916;<tspan font-style="italic">gspE</tspan></text>
<text transform="translate(577.4 727.6) rotate(-45)" font-size="8.3" fill="#231f20" stroke="#231f20" stroke-width="0.1">MCCC0423</text>
</svg>
</body></html>
